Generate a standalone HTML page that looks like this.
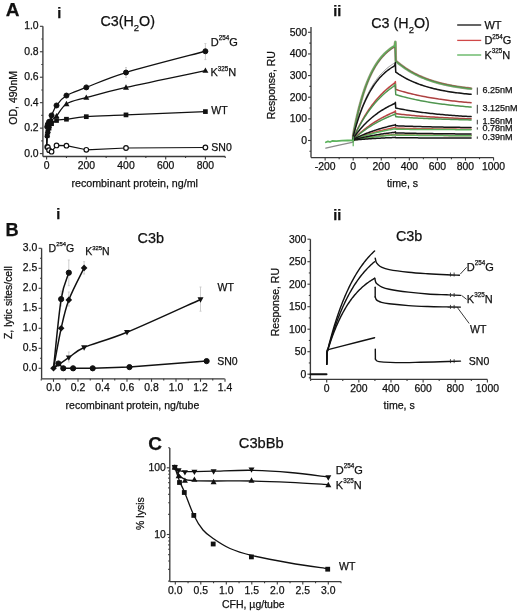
<!DOCTYPE html>
<html><head><meta charset="utf-8"><style>
html,body{margin:0;padding:0;background:#fff;}
svg{display:block;font-family:"Liberation Sans", sans-serif;}
text{stroke:#111;stroke-width:0.25px;}
.wrap{will-change:transform;width:520px;height:613px;}
</style></head><body>
<div class="wrap"><svg width="520" height="613" viewBox="0 0 520 613">
<rect width="520" height="613" fill="#fff"/>
<text x="5.80" y="16.20" font-size="19" text-anchor="start" font-weight="bold" fill="#111" >A</text>
<text x="5.60" y="236.20" font-size="18.2" text-anchor="start" font-weight="bold" fill="#111" >B</text>
<text x="148.30" y="449.70" font-size="19" text-anchor="start" font-weight="bold" fill="#111" >C</text>
<text x="57.30" y="18.30" font-size="14.5" text-anchor="start" font-weight="bold" fill="#111" >i</text>
<text x="333.20" y="15.90" font-size="14.5" text-anchor="start" font-weight="bold" fill="#111" >ii</text>
<text x="56.30" y="218.70" font-size="14.5" text-anchor="start" font-weight="bold" fill="#111" >i</text>
<text x="333.30" y="219.60" font-size="14.5" text-anchor="start" font-weight="bold" fill="#111" >ii</text>
<line x1="42.90" y1="26.30" x2="42.90" y2="156.50" stroke="#3a3a3a" stroke-width="1.35" />
<line x1="39.90" y1="153.60" x2="42.90" y2="153.60" stroke="#3a3a3a" stroke-width="1.1" />
<line x1="39.90" y1="128.14" x2="42.90" y2="128.14" stroke="#3a3a3a" stroke-width="1.1" />
<line x1="39.90" y1="102.68" x2="42.90" y2="102.68" stroke="#3a3a3a" stroke-width="1.1" />
<line x1="39.90" y1="77.22" x2="42.90" y2="77.22" stroke="#3a3a3a" stroke-width="1.1" />
<line x1="39.90" y1="51.76" x2="42.90" y2="51.76" stroke="#3a3a3a" stroke-width="1.1" />
<line x1="39.90" y1="26.30" x2="42.90" y2="26.30" stroke="#3a3a3a" stroke-width="1.1" />
<line x1="41.30" y1="140.87" x2="42.90" y2="140.87" stroke="#3a3a3a" stroke-width="1.1" />
<line x1="41.30" y1="115.41" x2="42.90" y2="115.41" stroke="#3a3a3a" stroke-width="1.1" />
<line x1="41.30" y1="89.95" x2="42.90" y2="89.95" stroke="#3a3a3a" stroke-width="1.1" />
<line x1="41.30" y1="64.49" x2="42.90" y2="64.49" stroke="#3a3a3a" stroke-width="1.1" />
<line x1="41.30" y1="39.03" x2="42.90" y2="39.03" stroke="#3a3a3a" stroke-width="1.1" />
<text x="38.60" y="156.60" font-size="10.4" text-anchor="end" font-weight="normal" fill="#111" >0.0</text>
<text x="38.60" y="131.14" font-size="10.4" text-anchor="end" font-weight="normal" fill="#111" >0.2</text>
<text x="38.60" y="105.68" font-size="10.4" text-anchor="end" font-weight="normal" fill="#111" >0.4</text>
<text x="38.60" y="80.22" font-size="10.4" text-anchor="end" font-weight="normal" fill="#111" >0.6</text>
<text x="38.60" y="54.76" font-size="10.4" text-anchor="end" font-weight="normal" fill="#111" >0.8</text>
<text x="38.60" y="29.30" font-size="10.4" text-anchor="end" font-weight="normal" fill="#111" >1.0</text>
<line x1="42.90" y1="156.50" x2="225.20" y2="156.50" stroke="#3a3a3a" stroke-width="1.35" />
<line x1="46.60" y1="156.50" x2="46.60" y2="159.50" stroke="#3a3a3a" stroke-width="1.1" />
<line x1="86.30" y1="156.50" x2="86.30" y2="159.50" stroke="#3a3a3a" stroke-width="1.1" />
<line x1="126.00" y1="156.50" x2="126.00" y2="159.50" stroke="#3a3a3a" stroke-width="1.1" />
<line x1="165.70" y1="156.50" x2="165.70" y2="159.50" stroke="#3a3a3a" stroke-width="1.1" />
<line x1="205.40" y1="156.50" x2="205.40" y2="159.50" stroke="#3a3a3a" stroke-width="1.1" />
<line x1="66.45" y1="156.50" x2="66.45" y2="158.10" stroke="#3a3a3a" stroke-width="1.1" />
<line x1="106.15" y1="156.50" x2="106.15" y2="158.10" stroke="#3a3a3a" stroke-width="1.1" />
<line x1="145.85" y1="156.50" x2="145.85" y2="158.10" stroke="#3a3a3a" stroke-width="1.1" />
<line x1="185.55" y1="156.50" x2="185.55" y2="158.10" stroke="#3a3a3a" stroke-width="1.1" />
<line x1="225.25" y1="156.50" x2="225.25" y2="158.10" stroke="#3a3a3a" stroke-width="1.1" />
<text x="46.60" y="168.80" font-size="10.4" text-anchor="middle" font-weight="normal" fill="#111" >0</text>
<text x="86.30" y="168.80" font-size="10.4" text-anchor="middle" font-weight="normal" fill="#111" >200</text>
<text x="126.00" y="168.80" font-size="10.4" text-anchor="middle" font-weight="normal" fill="#111" >400</text>
<text x="165.70" y="168.80" font-size="10.4" text-anchor="middle" font-weight="normal" fill="#111" >600</text>
<text x="205.40" y="168.80" font-size="10.4" text-anchor="middle" font-weight="normal" fill="#111" >800</text>
<text x="134.70" y="187.00" font-size="10.7" text-anchor="middle" font-weight="normal" fill="#111" >recombinant protein, ng/ml</text>
<text x="0" y="0" font-size="10.5" text-anchor="middle" fill="#111" transform="translate(17.20,97.80) rotate(-90)">OD, 490nM</text>
<text x="100.4" y="26.2" font-size="14.3" fill="#111">C3(H<tspan font-size="9.5" dy="4.5">2</tspan><tspan dy="-4.5">O)</tspan></text>
<path d="M46.60,145.96 C46.70,142.78 47.01,130.47 47.22,126.87 C47.43,123.26 47.53,125.17 47.84,124.32 C48.15,123.47 48.46,123.26 49.08,121.77 C49.70,120.29 50.32,118.13 51.56,115.41 C52.80,112.69 54.04,108.79 56.53,105.48 C59.01,102.17 61.49,98.56 66.45,95.55 C71.41,92.54 76.38,91.24 86.30,87.40 C96.23,83.56 106.15,78.54 126.00,72.51 C145.85,66.48 192.17,54.79 205.40,51.25" fill="none" stroke="#111" stroke-width="1.3" stroke-linejoin="round" stroke-linecap="round" />
<path d="M46.60,145.96 C46.70,144.05 47.01,137.05 47.22,134.50 C47.43,131.96 47.53,132.17 47.84,130.69 C48.15,129.20 48.46,127.29 49.08,125.59 C49.70,123.90 50.32,122.09 51.56,120.50 C52.80,118.91 54.04,118.80 56.53,116.05 C59.01,113.29 61.49,107.03 66.45,103.95 C71.41,100.88 76.38,100.35 86.30,97.59 C96.23,94.83 106.15,91.90 126.00,87.40 C145.85,82.91 192.17,73.40 205.40,70.60" fill="none" stroke="#111" stroke-width="1.3" stroke-linejoin="round" stroke-linecap="round" />
<path d="M46.60,145.96 C46.70,144.26 47.01,138.11 47.22,135.78 C47.43,133.44 47.53,133.23 47.84,131.96 C48.15,130.69 48.46,129.52 49.08,128.14 C49.70,126.76 50.32,124.96 51.56,123.68 C52.80,122.41 54.04,121.24 56.53,120.50 C59.01,119.76 61.49,119.87 66.45,119.23 C71.41,118.59 76.38,117.40 86.30,116.68 C96.23,115.96 106.15,115.75 126.00,114.90 C145.85,114.05 192.17,112.14 205.40,111.59" fill="none" stroke="#111" stroke-width="1.3" stroke-linejoin="round" stroke-linecap="round" />
<path d="M47.22,146.98 L47.84,147.23 L49.08,150.16 L51.56,151.69 L56.53,145.45 L66.45,145.71 L86.30,149.78 L126.00,148.00 L205.40,147.49" fill="none" stroke="#111" stroke-width="1.2" stroke-linejoin="round" stroke-linecap="round" />
<line x1="205.40" y1="43.50" x2="205.40" y2="59.60" stroke="#c9c9c9" stroke-width="0.9" />
<line x1="204.40" y1="43.50" x2="206.40" y2="43.50" stroke="#c9c9c9" stroke-width="0.9" />
<line x1="204.40" y1="59.60" x2="206.40" y2="59.60" stroke="#c9c9c9" stroke-width="0.9" />
<line x1="126.00" y1="67.51" x2="126.00" y2="77.51" stroke="#c9c9c9" stroke-width="0.9" />
<line x1="125.00" y1="67.51" x2="127.00" y2="67.51" stroke="#c9c9c9" stroke-width="0.9" />
<line x1="125.00" y1="77.51" x2="127.00" y2="77.51" stroke="#c9c9c9" stroke-width="0.9" />
<circle cx="47.22" cy="126.87" r="2.5" fill="#111" stroke="#111" stroke-width="1"/>
<circle cx="47.84" cy="124.32" r="2.5" fill="#111" stroke="#111" stroke-width="1"/>
<circle cx="49.08" cy="121.77" r="2.5" fill="#111" stroke="#111" stroke-width="1"/>
<circle cx="51.56" cy="115.41" r="2.5" fill="#111" stroke="#111" stroke-width="1"/>
<circle cx="56.53" cy="105.48" r="2.5" fill="#111" stroke="#111" stroke-width="1"/>
<circle cx="66.45" cy="95.55" r="2.5" fill="#111" stroke="#111" stroke-width="1"/>
<circle cx="86.30" cy="87.40" r="2.5" fill="#111" stroke="#111" stroke-width="1"/>
<circle cx="126.00" cy="72.51" r="2.5" fill="#111" stroke="#111" stroke-width="1"/>
<circle cx="205.40" cy="51.25" r="2.5" fill="#111" stroke="#111" stroke-width="1"/>
<polygon points="47.22,131.35 50.22,136.75 44.22,136.75" fill="#111"/>
<polygon points="47.84,127.54 50.84,132.94 44.84,132.94" fill="#111"/>
<polygon points="49.08,122.44 52.08,127.84 46.08,127.84" fill="#111"/>
<polygon points="51.56,117.35 54.56,122.75 48.56,122.75" fill="#111"/>
<polygon points="56.53,112.90 59.53,118.30 53.53,118.30" fill="#111"/>
<polygon points="66.45,100.80 69.45,106.20 63.45,106.20" fill="#111"/>
<polygon points="86.30,94.44 89.30,99.84 83.30,99.84" fill="#111"/>
<polygon points="126.00,84.25 129.00,89.65 123.00,89.65" fill="#111"/>
<polygon points="205.40,67.45 208.40,72.85 202.40,72.85" fill="#111"/>
<rect x="44.87" y="133.43" width="4.70" height="4.70" fill="#111"/>
<rect x="45.49" y="129.61" width="4.70" height="4.70" fill="#111"/>
<rect x="46.73" y="125.79" width="4.70" height="4.70" fill="#111"/>
<rect x="49.21" y="121.33" width="4.70" height="4.70" fill="#111"/>
<rect x="54.18" y="118.15" width="4.70" height="4.70" fill="#111"/>
<rect x="64.10" y="116.88" width="4.70" height="4.70" fill="#111"/>
<rect x="83.95" y="114.33" width="4.70" height="4.70" fill="#111"/>
<rect x="123.65" y="112.55" width="4.70" height="4.70" fill="#111"/>
<rect x="203.05" y="109.24" width="4.70" height="4.70" fill="#111"/>
<circle cx="47.22" cy="146.98" r="2.3" fill="#fff" stroke="#111" stroke-width="1.2"/>
<circle cx="47.84" cy="147.23" r="2.3" fill="#fff" stroke="#111" stroke-width="1.2"/>
<circle cx="49.08" cy="150.16" r="2.3" fill="#fff" stroke="#111" stroke-width="1.2"/>
<circle cx="51.56" cy="151.69" r="2.3" fill="#fff" stroke="#111" stroke-width="1.2"/>
<circle cx="56.53" cy="145.45" r="2.3" fill="#fff" stroke="#111" stroke-width="1.2"/>
<circle cx="66.45" cy="145.71" r="2.3" fill="#fff" stroke="#111" stroke-width="1.2"/>
<circle cx="86.30" cy="149.78" r="2.3" fill="#fff" stroke="#111" stroke-width="1.2"/>
<circle cx="126.00" cy="148.00" r="2.3" fill="#fff" stroke="#111" stroke-width="1.2"/>
<circle cx="205.40" cy="147.49" r="2.3" fill="#fff" stroke="#111" stroke-width="1.2"/>
<text x="210.80" y="45.80" font-size="11" fill="#111">D<tspan font-size="6.3" dy="-5.7">254</tspan><tspan dy="5.7">G</tspan></text>
<text x="210.50" y="76.30" font-size="11" fill="#111">K<tspan font-size="6.3" dy="-5.7">325</tspan><tspan dy="5.7">N</tspan></text>
<text x="211.30" y="114.00" font-size="10.5" text-anchor="start" font-weight="normal" fill="#111" >WT</text>
<text x="211.30" y="150.60" font-size="10.5" text-anchor="start" font-weight="normal" fill="#111" >SN0</text>
<line x1="311.00" y1="27.00" x2="311.00" y2="157.60" stroke="#3a3a3a" stroke-width="1.35" />
<line x1="308.00" y1="140.50" x2="311.00" y2="140.50" stroke="#3a3a3a" stroke-width="1.1" />
<line x1="308.00" y1="118.86" x2="311.00" y2="118.86" stroke="#3a3a3a" stroke-width="1.1" />
<line x1="308.00" y1="97.22" x2="311.00" y2="97.22" stroke="#3a3a3a" stroke-width="1.1" />
<line x1="308.00" y1="75.58" x2="311.00" y2="75.58" stroke="#3a3a3a" stroke-width="1.1" />
<line x1="308.00" y1="53.94" x2="311.00" y2="53.94" stroke="#3a3a3a" stroke-width="1.1" />
<line x1="308.00" y1="32.30" x2="311.00" y2="32.30" stroke="#3a3a3a" stroke-width="1.1" />
<line x1="309.40" y1="151.32" x2="311.00" y2="151.32" stroke="#3a3a3a" stroke-width="1.1" />
<line x1="309.40" y1="129.68" x2="311.00" y2="129.68" stroke="#3a3a3a" stroke-width="1.1" />
<line x1="309.40" y1="108.04" x2="311.00" y2="108.04" stroke="#3a3a3a" stroke-width="1.1" />
<line x1="309.40" y1="86.40" x2="311.00" y2="86.40" stroke="#3a3a3a" stroke-width="1.1" />
<line x1="309.40" y1="64.76" x2="311.00" y2="64.76" stroke="#3a3a3a" stroke-width="1.1" />
<line x1="309.40" y1="43.12" x2="311.00" y2="43.12" stroke="#3a3a3a" stroke-width="1.1" />
<text x="307.00" y="143.80" font-size="10.4" text-anchor="end" font-weight="normal" fill="#111" >0</text>
<text x="307.00" y="122.16" font-size="10.4" text-anchor="end" font-weight="normal" fill="#111" >100</text>
<text x="307.00" y="100.52" font-size="10.4" text-anchor="end" font-weight="normal" fill="#111" >200</text>
<text x="307.00" y="78.88" font-size="10.4" text-anchor="end" font-weight="normal" fill="#111" >300</text>
<text x="307.00" y="57.24" font-size="10.4" text-anchor="end" font-weight="normal" fill="#111" >400</text>
<text x="307.00" y="35.60" font-size="10.4" text-anchor="end" font-weight="normal" fill="#111" >500</text>
<line x1="311.00" y1="157.60" x2="493.60" y2="157.60" stroke="#3a3a3a" stroke-width="1.35" />
<line x1="325.13" y1="157.60" x2="325.13" y2="160.60" stroke="#3a3a3a" stroke-width="1.1" />
<line x1="353.20" y1="157.60" x2="353.20" y2="160.60" stroke="#3a3a3a" stroke-width="1.1" />
<line x1="381.27" y1="157.60" x2="381.27" y2="160.60" stroke="#3a3a3a" stroke-width="1.1" />
<line x1="409.34" y1="157.60" x2="409.34" y2="160.60" stroke="#3a3a3a" stroke-width="1.1" />
<line x1="437.41" y1="157.60" x2="437.41" y2="160.60" stroke="#3a3a3a" stroke-width="1.1" />
<line x1="465.48" y1="157.60" x2="465.48" y2="160.60" stroke="#3a3a3a" stroke-width="1.1" />
<line x1="493.55" y1="157.60" x2="493.55" y2="160.60" stroke="#3a3a3a" stroke-width="1.1" />
<line x1="339.16" y1="157.60" x2="339.16" y2="159.20" stroke="#3a3a3a" stroke-width="1.1" />
<line x1="367.24" y1="157.60" x2="367.24" y2="159.20" stroke="#3a3a3a" stroke-width="1.1" />
<line x1="395.31" y1="157.60" x2="395.31" y2="159.20" stroke="#3a3a3a" stroke-width="1.1" />
<line x1="423.38" y1="157.60" x2="423.38" y2="159.20" stroke="#3a3a3a" stroke-width="1.1" />
<line x1="451.44" y1="157.60" x2="451.44" y2="159.20" stroke="#3a3a3a" stroke-width="1.1" />
<line x1="479.51" y1="157.60" x2="479.51" y2="159.20" stroke="#3a3a3a" stroke-width="1.1" />
<text x="325.13" y="170.10" font-size="10.4" text-anchor="middle" font-weight="normal" fill="#111" >-200</text>
<text x="353.20" y="170.10" font-size="10.4" text-anchor="middle" font-weight="normal" fill="#111" >0</text>
<text x="381.27" y="170.10" font-size="10.4" text-anchor="middle" font-weight="normal" fill="#111" >200</text>
<text x="409.34" y="170.10" font-size="10.4" text-anchor="middle" font-weight="normal" fill="#111" >400</text>
<text x="437.41" y="170.10" font-size="10.4" text-anchor="middle" font-weight="normal" fill="#111" >600</text>
<text x="465.48" y="170.10" font-size="10.4" text-anchor="middle" font-weight="normal" fill="#111" >800</text>
<text x="493.55" y="170.10" font-size="10.4" text-anchor="middle" font-weight="normal" fill="#111" >1000</text>
<text x="402.50" y="187.10" font-size="10.6" text-anchor="middle" font-weight="normal" fill="#111" >time, s</text>
<text x="0" y="0" font-size="10.5" text-anchor="middle" fill="#111" transform="translate(274.90,85.20) rotate(-90)">Response, RU</text>
<text x="371.3" y="28.1" font-size="14.3" fill="#111">C3 (H<tspan font-size="9.5" dy="4.5">2</tspan><tspan dy="-4.5">O)</tspan></text>
<line x1="457.20" y1="25.00" x2="481.20" y2="25.00" stroke="#111" stroke-width="1.3" />
<line x1="457.20" y1="40.40" x2="481.20" y2="40.40" stroke="#d04848" stroke-width="1.3" />
<line x1="457.20" y1="55.00" x2="481.20" y2="55.00" stroke="#58b058" stroke-width="1.3" />
<text x="484.40" y="28.80" font-size="11" text-anchor="start" font-weight="normal" fill="#111" >WT</text>
<text x="484.40" y="44.30" font-size="11" fill="#111">D<tspan font-size="6.3" dy="-5.7">254</tspan><tspan dy="5.7">G</tspan></text>
<text x="484.40" y="58.90" font-size="11" fill="#111">K<tspan font-size="6.3" dy="-5.7">325</tspan><tspan dy="5.7">N</tspan></text>
<path d="M353.20,140.50 L353.27,135.09 L354.32,129.27 L355.45,123.79 L356.57,118.63 L357.69,113.77 L358.81,109.20 L359.94,104.89 L361.06,100.83 L362.18,97.01 L363.31,93.41 L364.43,90.01 L365.55,86.82 L366.67,83.82 L367.80,80.98 L368.92,78.32 L370.04,75.80 L371.16,73.44 L372.29,71.21 L373.41,69.11 L374.53,67.14 L375.66,65.28 L376.78,63.52 L377.90,61.87 L379.02,60.32 L380.15,58.86 L381.27,57.48 L382.39,56.18 L383.52,54.96 L384.64,53.81 L385.76,52.72 L386.88,51.70 L388.01,50.74 L389.13,49.83 L390.25,48.98 L391.38,48.18 L392.50,47.42 L393.62,46.71 L394.74,46.04 L395.38,41.82 L395.73,60.86 L396.99,61.96 L398.67,63.35 L400.36,64.69 L402.04,65.96 L403.73,67.18 L405.41,68.34 L407.09,69.44 L408.78,70.50 L410.46,71.51 L412.15,72.47 L413.83,73.38 L415.52,74.26 L417.20,75.09 L418.88,75.89 L420.57,76.65 L422.25,77.38 L423.94,78.07 L425.62,78.73 L427.30,79.36 L428.99,79.97 L430.67,80.54 L432.36,81.09 L434.04,81.61 L435.73,82.11 L437.41,82.59 L439.09,83.04 L440.78,83.48 L442.46,83.89 L444.15,84.28 L445.83,84.66 L447.52,85.02 L449.20,85.37 L450.88,85.69 L452.57,86.01 L454.25,86.30 L455.94,86.59 L457.62,86.86 L459.30,87.12 L460.99,87.37 L462.67,87.60 L464.36,87.83 L466.04,88.04 L467.73,88.25 L469.41,88.44 L471.09,88.63" fill="none" stroke="#a0a890" stroke-width="2.8" stroke-linejoin="round" stroke-linecap="round" />
<path d="M353.20,140.50 L353.27,136.17 L354.32,131.83 L355.45,127.70 L356.57,123.78 L357.69,120.06 L358.81,116.53 L359.94,113.18 L361.06,110.00 L362.18,106.98 L363.31,104.11 L364.43,101.39 L365.55,98.81 L366.67,96.35 L367.80,94.02 L368.92,91.81 L370.04,89.71 L371.16,87.72 L372.29,85.83 L373.41,84.03 L374.53,82.33 L375.66,80.71 L376.78,79.17 L377.90,77.72 L379.02,76.33 L380.15,75.02 L381.27,73.77 L382.39,72.58 L383.52,71.46 L384.64,70.39 L385.76,69.38 L386.88,68.42 L388.01,67.50 L389.13,66.64 L390.25,65.81 L391.38,65.03 L392.50,64.29 L393.62,63.59 L394.74,62.92 L395.73,72.12 L396.99,72.99 L398.67,74.11 L400.36,75.17 L402.04,76.19 L403.73,77.16 L405.41,78.08 L407.09,78.97 L408.78,79.81 L410.46,80.61 L412.15,81.38 L413.83,82.11 L415.52,82.81 L417.20,83.48 L418.88,84.12 L420.57,84.72 L422.25,85.30 L423.94,85.86 L425.62,86.38 L427.30,86.89 L428.99,87.37 L430.67,87.83 L432.36,88.27 L434.04,88.68 L435.73,89.08 L437.41,89.46 L439.09,89.82 L440.78,90.17 L442.46,90.50 L444.15,90.82 L445.83,91.12 L447.52,91.41 L449.20,91.68 L450.88,91.94 L452.57,92.19 L454.25,92.43 L455.94,92.66 L457.62,92.87 L459.30,93.08 L460.99,93.28 L462.67,93.47 L464.36,93.65 L466.04,93.82 L467.73,93.98 L469.41,94.14 L471.09,94.29" fill="none" stroke="#999999" stroke-width="1.0" stroke-linejoin="round" stroke-linecap="round" />
<path d="M353.20,140.50 L353.27,135.09 L354.32,129.29 L355.45,123.82 L356.57,118.67 L357.69,113.83 L358.81,109.26 L359.94,104.96 L361.06,100.91 L362.18,97.10 L363.31,93.51 L364.43,90.12 L365.55,86.94 L366.67,83.94 L367.80,81.11 L368.92,78.45 L370.04,75.95 L371.16,73.59 L372.29,71.37 L373.41,69.27 L374.53,67.30 L375.66,65.45 L376.78,63.70 L377.90,62.05 L379.02,60.50 L380.15,59.04 L381.27,57.67 L382.39,56.37 L383.52,55.15 L384.64,54.00 L385.76,52.92 L386.88,51.90 L388.01,50.94 L389.13,50.04 L390.25,49.19 L391.38,48.39 L392.50,47.63 L393.62,46.92 L394.74,46.25 L395.38,42.69 L395.73,60.65 L396.99,61.74 L398.67,63.14 L400.36,64.47 L402.04,65.75 L403.73,66.96 L405.41,68.12 L407.09,69.23 L408.78,70.28 L410.46,71.29 L412.15,72.25 L413.83,73.17 L415.52,74.04 L417.20,74.88 L418.88,75.68 L420.57,76.44 L422.25,77.16 L423.94,77.86 L425.62,78.52 L427.30,79.15 L428.99,79.75 L430.67,80.32 L432.36,80.87 L434.04,81.40 L435.73,81.89 L437.41,82.37 L439.09,82.83 L440.78,83.26 L442.46,83.67 L444.15,84.07 L445.83,84.45 L447.52,84.81 L449.20,85.15 L450.88,85.48 L452.57,85.79 L454.25,86.09 L455.94,86.37 L457.62,86.64 L459.30,86.90 L460.99,87.15 L462.67,87.39 L464.36,87.61 L466.04,87.83 L467.73,88.03 L469.41,88.23 L471.09,88.41" fill="none" stroke="#cf4a4a" stroke-width="1.5" stroke-linejoin="round" stroke-linecap="round" />
<path d="M353.20,140.50 L353.27,138.34 L354.32,135.82 L355.45,133.38 L356.57,131.02 L357.69,128.74 L358.81,126.52 L359.94,124.38 L361.06,122.30 L362.18,120.29 L363.31,118.34 L364.43,116.46 L365.55,114.63 L366.67,112.86 L367.80,111.15 L368.92,109.49 L370.04,107.88 L371.16,106.32 L372.29,104.81 L373.41,103.35 L374.53,101.94 L375.66,100.57 L376.78,99.24 L377.90,97.96 L379.02,96.71 L380.15,95.51 L381.27,94.34 L382.39,93.21 L383.52,92.11 L384.64,91.05 L385.76,90.03 L386.88,89.03 L388.01,88.07 L389.13,87.14 L390.25,86.23 L391.38,85.36 L392.50,84.51 L393.62,83.69 L394.74,82.89 L395.38,81.64 L395.73,89.43 L396.99,89.83 L398.67,90.35 L400.36,90.86 L402.04,91.35 L403.73,91.82 L405.41,92.28 L407.09,92.73 L408.78,93.16 L410.46,93.59 L412.15,94.00 L413.83,94.39 L415.52,94.78 L417.20,95.15 L418.88,95.51 L420.57,95.87 L422.25,96.21 L423.94,96.54 L425.62,96.86 L427.30,97.17 L428.99,97.48 L430.67,97.77 L432.36,98.06 L434.04,98.33 L435.73,98.60 L437.41,98.86 L439.09,99.12 L440.78,99.36 L442.46,99.60 L444.15,99.83 L445.83,100.06 L447.52,100.28 L449.20,100.49 L450.88,100.69 L452.57,100.89 L454.25,101.09 L455.94,101.27 L457.62,101.45 L459.30,101.63 L460.99,101.80 L462.67,101.97 L464.36,102.13 L466.04,102.29 L467.73,102.44 L469.41,102.59 L471.09,102.73" fill="none" stroke="#cf4a4a" stroke-width="1.5" stroke-linejoin="round" stroke-linecap="round" />
<path d="M353.20,140.50 L353.27,139.42 L354.32,138.30 L355.45,137.21 L356.57,136.15 L357.69,135.11 L358.81,134.10 L359.94,133.11 L361.06,132.14 L362.18,131.20 L363.31,130.28 L364.43,129.38 L365.55,128.50 L366.67,127.65 L367.80,126.81 L368.92,125.99 L370.04,125.20 L371.16,124.42 L372.29,123.66 L373.41,122.92 L374.53,122.19 L375.66,121.49 L376.78,120.79 L377.90,120.12 L379.02,119.46 L380.15,118.82 L381.27,118.19 L382.39,117.58 L383.52,116.98 L384.64,116.40 L385.76,115.83 L386.88,115.27 L388.01,114.73 L389.13,114.20 L390.25,113.68 L391.38,113.18 L392.50,112.69 L393.62,112.20 L394.74,111.73 L395.38,110.85 L395.73,113.67 L396.99,113.82 L398.67,114.02 L400.36,114.22 L402.04,114.41 L403.73,114.59 L405.41,114.77 L407.09,114.94 L408.78,115.11 L410.46,115.28 L412.15,115.43 L413.83,115.59 L415.52,115.74 L417.20,115.88 L418.88,116.02 L420.57,116.16 L422.25,116.29 L423.94,116.42 L425.62,116.54 L427.30,116.66 L428.99,116.78 L430.67,116.90 L432.36,117.01 L434.04,117.11 L435.73,117.22 L437.41,117.32 L439.09,117.42 L440.78,117.51 L442.46,117.60 L444.15,117.69 L445.83,117.78 L447.52,117.86 L449.20,117.95 L450.88,118.03 L452.57,118.10 L454.25,118.18 L455.94,118.25 L457.62,118.32 L459.30,118.39 L460.99,118.46 L462.67,118.52 L464.36,118.58 L466.04,118.64 L467.73,118.70 L469.41,118.76 L471.09,118.82" fill="none" stroke="#cf4a4a" stroke-width="1.5" stroke-linejoin="round" stroke-linecap="round" />
<path d="M353.20,140.50 L353.27,139.85 L354.32,139.36 L355.45,138.88 L356.57,138.41 L357.69,137.95 L358.81,137.50 L359.94,137.06 L361.06,136.64 L362.18,136.22 L363.31,135.81 L364.43,135.42 L365.55,135.03 L366.67,134.65 L367.80,134.28 L368.92,133.92 L370.04,133.57 L371.16,133.22 L372.29,132.89 L373.41,132.56 L374.53,132.24 L375.66,131.93 L376.78,131.62 L377.90,131.32 L379.02,131.03 L380.15,130.75 L381.27,130.47 L382.39,130.20 L383.52,129.94 L384.64,129.68 L385.76,129.43 L386.88,129.18 L388.01,128.94 L389.13,128.71 L390.25,128.48 L391.38,128.26 L392.50,128.04 L393.62,127.83 L394.74,127.62 L395.38,127.08 L395.73,128.17 L396.99,128.20 L398.67,128.24 L400.36,128.28 L402.04,128.32 L403.73,128.36 L405.41,128.40 L407.09,128.43 L408.78,128.47 L410.46,128.50 L412.15,128.53 L413.83,128.57 L415.52,128.60 L417.20,128.63 L418.88,128.66 L420.57,128.68 L422.25,128.71 L423.94,128.74 L425.62,128.76 L427.30,128.79 L428.99,128.81 L430.67,128.84 L432.36,128.86 L434.04,128.88 L435.73,128.91 L437.41,128.93 L439.09,128.95 L440.78,128.97 L442.46,128.99 L444.15,129.00 L445.83,129.02 L447.52,129.04 L449.20,129.06 L450.88,129.07 L452.57,129.09 L454.25,129.11 L455.94,129.12 L457.62,129.13 L459.30,129.15 L460.99,129.16 L462.67,129.18 L464.36,129.19 L466.04,129.20 L467.73,129.21 L469.41,129.23 L471.09,129.24" fill="none" stroke="#cf4a4a" stroke-width="1.5" stroke-linejoin="round" stroke-linecap="round" />
<path d="M353.20,140.50 L353.27,140.07 L354.32,139.84 L355.45,139.62 L356.57,139.41 L357.69,139.20 L358.81,139.00 L359.94,138.80 L361.06,138.60 L362.18,138.41 L363.31,138.23 L364.43,138.04 L365.55,137.87 L366.67,137.69 L367.80,137.53 L368.92,137.36 L370.04,137.20 L371.16,137.04 L372.29,136.89 L373.41,136.74 L374.53,136.60 L375.66,136.45 L376.78,136.31 L377.90,136.18 L379.02,136.05 L380.15,135.92 L381.27,135.79 L382.39,135.67 L383.52,135.55 L384.64,135.43 L385.76,135.31 L386.88,135.20 L388.01,135.09 L389.13,134.98 L390.25,134.88 L391.38,134.78 L392.50,134.68 L393.62,134.58 L394.74,134.49 L395.38,134.22 L395.73,134.87 L396.99,134.89 L398.67,134.92 L400.36,134.94 L402.04,134.97 L403.73,134.99 L405.41,135.01 L407.09,135.03 L408.78,135.05 L410.46,135.07 L412.15,135.09 L413.83,135.11 L415.52,135.13 L417.20,135.15 L418.88,135.17 L420.57,135.19 L422.25,135.20 L423.94,135.22 L425.62,135.23 L427.30,135.25 L428.99,135.26 L430.67,135.28 L432.36,135.29 L434.04,135.30 L435.73,135.32 L437.41,135.33 L439.09,135.34 L440.78,135.35 L442.46,135.37 L444.15,135.38 L445.83,135.39 L447.52,135.40 L449.20,135.41 L450.88,135.42 L452.57,135.43 L454.25,135.44 L455.94,135.45 L457.62,135.46 L459.30,135.46 L460.99,135.47 L462.67,135.48 L464.36,135.49 L466.04,135.50 L467.73,135.50 L469.41,135.51 L471.09,135.52" fill="none" stroke="#cf4a4a" stroke-width="1.5" stroke-linejoin="round" stroke-linecap="round" />
<path d="M353.20,140.50 L353.27,135.09 L354.32,129.26 L355.45,123.77 L356.57,118.59 L357.69,113.72 L358.81,109.13 L359.94,104.81 L361.06,100.75 L362.18,96.91 L363.31,93.30 L364.43,89.91 L365.55,86.71 L366.67,83.69 L367.80,80.85 L368.92,78.18 L370.04,75.66 L371.16,73.29 L372.29,71.06 L373.41,68.95 L374.53,66.97 L375.66,65.11 L376.78,63.35 L377.90,61.70 L379.02,60.14 L380.15,58.67 L381.27,57.29 L382.39,55.99 L383.52,54.76 L384.64,53.61 L385.76,52.52 L386.88,51.50 L388.01,50.54 L389.13,49.63 L390.25,48.77 L391.38,47.97 L392.50,47.21 L393.62,46.49 L394.74,45.82 L395.38,41.82 L395.73,61.08 L396.99,62.17 L398.67,63.57 L400.36,64.91 L402.04,66.18 L403.73,67.39 L405.41,68.55 L407.09,69.66 L408.78,70.71 L410.46,71.72 L412.15,72.68 L413.83,73.60 L415.52,74.48 L417.20,75.31 L418.88,76.11 L420.57,76.87 L422.25,77.60 L423.94,78.29 L425.62,78.95 L427.30,79.58 L428.99,80.18 L430.67,80.76 L432.36,81.30 L434.04,81.83 L435.73,82.33 L437.41,82.80 L439.09,83.26 L440.78,83.69 L442.46,84.11 L444.15,84.50 L445.83,84.88 L447.52,85.24 L449.20,85.58 L450.88,85.91 L452.57,86.22 L454.25,86.52 L455.94,86.80 L457.62,87.08 L459.30,87.34 L460.99,87.58 L462.67,87.82 L464.36,88.04 L466.04,88.26 L467.73,88.46 L469.41,88.66 L471.09,88.85" fill="none" stroke="#5db35d" stroke-width="1.5" stroke-linejoin="round" stroke-linecap="round" />
<path d="M353.20,140.50 L353.27,138.34 L354.32,135.94 L355.45,133.61 L356.57,131.36 L357.69,129.18 L358.81,127.07 L359.94,125.03 L361.06,123.05 L362.18,121.13 L363.31,119.27 L364.43,117.47 L365.55,115.73 L366.67,114.04 L367.80,112.41 L368.92,110.83 L370.04,109.30 L371.16,107.81 L372.29,106.37 L373.41,104.98 L374.53,103.63 L375.66,102.33 L376.78,101.06 L377.90,99.84 L379.02,98.65 L380.15,97.50 L381.27,96.39 L382.39,95.31 L383.52,94.26 L384.64,93.25 L385.76,92.27 L386.88,91.33 L388.01,90.41 L389.13,89.52 L390.25,88.66 L391.38,87.82 L392.50,87.01 L393.62,86.23 L394.74,85.47 L395.38,84.24 L395.73,94.62 L396.99,95.00 L398.67,95.48 L400.36,95.96 L402.04,96.42 L403.73,96.86 L405.41,97.29 L407.09,97.71 L408.78,98.12 L410.46,98.51 L412.15,98.89 L413.83,99.27 L415.52,99.63 L417.20,99.98 L418.88,100.32 L420.57,100.65 L422.25,100.96 L423.94,101.28 L425.62,101.58 L427.30,101.87 L428.99,102.15 L430.67,102.43 L432.36,102.69 L434.04,102.95 L435.73,103.21 L437.41,103.45 L439.09,103.69 L440.78,103.92 L442.46,104.14 L444.15,104.36 L445.83,104.57 L447.52,104.77 L449.20,104.97 L450.88,105.16 L452.57,105.35 L454.25,105.53 L455.94,105.70 L457.62,105.87 L459.30,106.04 L460.99,106.20 L462.67,106.35 L464.36,106.50 L466.04,106.65 L467.73,106.79 L469.41,106.93 L471.09,107.07" fill="none" stroke="#5db35d" stroke-width="1.5" stroke-linejoin="round" stroke-linecap="round" />
<path d="M353.20,140.50 L353.27,139.42 L354.32,138.41 L355.45,137.42 L356.57,136.45 L357.69,135.51 L358.81,134.59 L359.94,133.70 L361.06,132.82 L362.18,131.96 L363.31,131.13 L364.43,130.31 L365.55,129.52 L366.67,128.74 L367.80,127.98 L368.92,127.24 L370.04,126.52 L371.16,125.81 L372.29,125.12 L373.41,124.45 L374.53,123.79 L375.66,123.15 L376.78,122.53 L377.90,121.92 L379.02,121.32 L380.15,120.74 L381.27,120.17 L382.39,119.61 L383.52,119.07 L384.64,118.54 L385.76,118.02 L386.88,117.52 L388.01,117.03 L389.13,116.55 L390.25,116.08 L391.38,115.62 L392.50,115.17 L393.62,114.74 L394.74,114.31 L395.38,113.45 L395.73,116.70 L396.99,116.79 L398.67,116.92 L400.36,117.04 L402.04,117.16 L403.73,117.27 L405.41,117.39 L407.09,117.49 L408.78,117.60 L410.46,117.70 L412.15,117.80 L413.83,117.90 L415.52,117.99 L417.20,118.08 L418.88,118.17 L420.57,118.25 L422.25,118.34 L423.94,118.42 L425.62,118.49 L427.30,118.57 L428.99,118.64 L430.67,118.71 L432.36,118.78 L434.04,118.85 L435.73,118.92 L437.41,118.98 L439.09,119.04 L440.78,119.10 L442.46,119.16 L444.15,119.21 L445.83,119.27 L447.52,119.32 L449.20,119.37 L450.88,119.42 L452.57,119.47 L454.25,119.52 L455.94,119.56 L457.62,119.61 L459.30,119.65 L460.99,119.69 L462.67,119.73 L464.36,119.77 L466.04,119.81 L467.73,119.84 L469.41,119.88 L471.09,119.91" fill="none" stroke="#5db35d" stroke-width="1.5" stroke-linejoin="round" stroke-linecap="round" />
<path d="M353.20,140.50 L353.27,139.85 L354.32,139.41 L355.45,138.98 L356.57,138.56 L357.69,138.15 L358.81,137.75 L359.94,137.36 L361.06,136.97 L362.18,136.60 L363.31,136.24 L364.43,135.88 L365.55,135.54 L366.67,135.20 L367.80,134.87 L368.92,134.54 L370.04,134.23 L371.16,133.92 L372.29,133.62 L373.41,133.33 L374.53,133.04 L375.66,132.76 L376.78,132.49 L377.90,132.22 L379.02,131.96 L380.15,131.71 L381.27,131.46 L382.39,131.22 L383.52,130.98 L384.64,130.75 L385.76,130.53 L386.88,130.31 L388.01,130.09 L389.13,129.88 L390.25,129.68 L391.38,129.48 L392.50,129.28 L393.62,129.09 L394.74,128.91 L395.38,128.38 L395.73,129.25 L396.99,129.26 L398.67,129.28 L400.36,129.29 L402.04,129.31 L403.73,129.32 L405.41,129.34 L407.09,129.35 L408.78,129.37 L410.46,129.38 L412.15,129.39 L413.83,129.41 L415.52,129.42 L417.20,129.43 L418.88,129.44 L420.57,129.45 L422.25,129.47 L423.94,129.48 L425.62,129.49 L427.30,129.50 L428.99,129.51 L430.67,129.52 L432.36,129.53 L434.04,129.53 L435.73,129.54 L437.41,129.55 L439.09,129.56 L440.78,129.57 L442.46,129.58 L444.15,129.58 L445.83,129.59 L447.52,129.60 L449.20,129.60 L450.88,129.61 L452.57,129.62 L454.25,129.62 L455.94,129.63 L457.62,129.64 L459.30,129.64 L460.99,129.65 L462.67,129.65 L464.36,129.66 L466.04,129.66 L467.73,129.67 L469.41,129.67 L471.09,129.68" fill="none" stroke="#5db35d" stroke-width="1.5" stroke-linejoin="round" stroke-linecap="round" />
<path d="M353.20,140.50 L353.27,140.07 L354.32,139.86 L355.45,139.66 L356.57,139.46 L357.69,139.27 L358.81,139.08 L359.94,138.89 L361.06,138.71 L362.18,138.54 L363.31,138.37 L364.43,138.20 L365.55,138.04 L366.67,137.88 L367.80,137.72 L368.92,137.57 L370.04,137.42 L371.16,137.28 L372.29,137.14 L373.41,137.00 L374.53,136.86 L375.66,136.73 L376.78,136.60 L377.90,136.48 L379.02,136.35 L380.15,136.24 L381.27,136.12 L382.39,136.00 L383.52,135.89 L384.64,135.78 L385.76,135.68 L386.88,135.58 L388.01,135.47 L389.13,135.38 L390.25,135.28 L391.38,135.19 L392.50,135.09 L393.62,135.00 L394.74,134.92 L395.38,134.66 L395.73,135.09 L396.99,135.11 L398.67,135.13 L400.36,135.16 L402.04,135.18 L403.73,135.21 L405.41,135.23 L407.09,135.25 L408.78,135.27 L410.46,135.29 L412.15,135.31 L413.83,135.33 L415.52,135.35 L417.20,135.37 L418.88,135.38 L420.57,135.40 L422.25,135.42 L423.94,135.43 L425.62,135.45 L427.30,135.46 L428.99,135.48 L430.67,135.49 L432.36,135.51 L434.04,135.52 L435.73,135.53 L437.41,135.55 L439.09,135.56 L440.78,135.57 L442.46,135.58 L444.15,135.59 L445.83,135.60 L447.52,135.61 L449.20,135.63 L450.88,135.63 L452.57,135.64 L454.25,135.65 L455.94,135.66 L457.62,135.67 L459.30,135.68 L460.99,135.69 L462.67,135.70 L464.36,135.70 L466.04,135.71 L467.73,135.72 L469.41,135.73 L471.09,135.73" fill="none" stroke="#5db35d" stroke-width="1.5" stroke-linejoin="round" stroke-linecap="round" />
<path d="M353.20,140.50 L353.27,136.17 L354.32,131.99 L355.45,128.02 L356.57,124.26 L357.69,120.68 L358.81,117.28 L359.94,114.06 L361.06,111.00 L362.18,108.10 L363.31,105.34 L364.43,102.72 L365.55,100.23 L366.67,97.88 L367.80,95.64 L368.92,93.51 L370.04,91.49 L371.16,89.57 L372.29,87.75 L373.41,86.03 L374.53,84.39 L375.66,82.83 L376.78,81.35 L377.90,79.95 L379.02,78.62 L380.15,77.36 L381.27,76.16 L382.39,75.02 L383.52,73.93 L384.64,72.91 L385.76,71.93 L386.88,71.01 L388.01,70.13 L389.13,69.30 L390.25,68.50 L391.38,67.75 L392.50,67.04 L393.62,66.36 L394.74,65.72 L395.38,62.60 L395.73,72.12 L396.99,72.99 L398.67,74.11 L400.36,75.17 L402.04,76.19 L403.73,77.16 L405.41,78.08 L407.09,78.97 L408.78,79.81 L410.46,80.61 L412.15,81.38 L413.83,82.11 L415.52,82.81 L417.20,83.48 L418.88,84.12 L420.57,84.72 L422.25,85.30 L423.94,85.86 L425.62,86.38 L427.30,86.89 L428.99,87.37 L430.67,87.83 L432.36,88.27 L434.04,88.68 L435.73,89.08 L437.41,89.46 L439.09,89.82 L440.78,90.17 L442.46,90.50 L444.15,90.82 L445.83,91.12 L447.52,91.41 L449.20,91.68 L450.88,91.94 L452.57,92.19 L454.25,92.43 L455.94,92.66 L457.62,92.87 L459.30,93.08 L460.99,93.28 L462.67,93.47 L464.36,93.65 L466.04,93.82 L467.73,93.98 L469.41,94.14 L471.09,94.29" fill="none" stroke="#151515" stroke-width="1.5" stroke-linejoin="round" stroke-linecap="round" />
<path d="M353.20,140.50 L353.27,138.34 L354.32,136.76 L355.45,135.23 L356.57,133.74 L357.69,132.31 L358.81,130.92 L359.94,129.57 L361.06,128.27 L362.18,127.01 L363.31,125.78 L364.43,124.60 L365.55,123.45 L366.67,122.34 L367.80,121.26 L368.92,120.22 L370.04,119.21 L371.16,118.23 L372.29,117.29 L373.41,116.37 L374.53,115.48 L375.66,114.62 L376.78,113.79 L377.90,112.98 L379.02,112.20 L380.15,111.44 L381.27,110.71 L382.39,110.00 L383.52,109.31 L384.64,108.65 L385.76,108.00 L386.88,107.38 L388.01,106.77 L389.13,106.19 L390.25,105.62 L391.38,105.07 L392.50,104.54 L393.62,104.02 L394.74,103.52 L395.38,102.41 L395.73,108.04 L396.99,108.30 L398.67,108.63 L400.36,108.96 L402.04,109.28 L403.73,109.58 L405.41,109.88 L407.09,110.17 L408.78,110.45 L410.46,110.72 L412.15,110.99 L413.83,111.24 L415.52,111.49 L417.20,111.73 L418.88,111.97 L420.57,112.19 L422.25,112.41 L423.94,112.63 L425.62,112.84 L427.30,113.04 L428.99,113.23 L430.67,113.42 L432.36,113.61 L434.04,113.79 L435.73,113.96 L437.41,114.13 L439.09,114.29 L440.78,114.45 L442.46,114.60 L444.15,114.75 L445.83,114.90 L447.52,115.04 L449.20,115.17 L450.88,115.31 L452.57,115.44 L454.25,115.56 L455.94,115.68 L457.62,115.80 L459.30,115.91 L460.99,116.02 L462.67,116.13 L464.36,116.23 L466.04,116.34 L467.73,116.43 L469.41,116.53 L471.09,116.62" fill="none" stroke="#151515" stroke-width="1.5" stroke-linejoin="round" stroke-linecap="round" />
<path d="M353.20,140.50 L353.27,139.42 L354.32,138.84 L355.45,138.27 L356.57,137.72 L357.69,137.18 L358.81,136.66 L359.94,136.14 L361.06,135.64 L362.18,135.15 L363.31,134.67 L364.43,134.20 L365.55,133.75 L366.67,133.30 L367.80,132.87 L368.92,132.45 L370.04,132.03 L371.16,131.63 L372.29,131.23 L373.41,130.85 L374.53,130.47 L375.66,130.10 L376.78,129.75 L377.90,129.40 L379.02,129.05 L380.15,128.72 L381.27,128.39 L382.39,128.08 L383.52,127.77 L384.64,127.46 L385.76,127.17 L386.88,126.88 L388.01,126.60 L389.13,126.32 L390.25,126.05 L391.38,125.79 L392.50,125.53 L393.62,125.28 L394.74,125.04 L395.38,124.49 L395.73,125.78 L396.99,125.84 L398.67,125.90 L400.36,125.97 L402.04,126.03 L403.73,126.09 L405.41,126.15 L407.09,126.21 L408.78,126.27 L410.46,126.32 L412.15,126.37 L413.83,126.43 L415.52,126.47 L417.20,126.52 L418.88,126.57 L420.57,126.62 L422.25,126.66 L423.94,126.70 L425.62,126.74 L427.30,126.78 L428.99,126.82 L430.67,126.86 L432.36,126.90 L434.04,126.93 L435.73,126.97 L437.41,127.00 L439.09,127.03 L440.78,127.07 L442.46,127.10 L444.15,127.13 L445.83,127.16 L447.52,127.18 L449.20,127.21 L450.88,127.24 L452.57,127.26 L454.25,127.29 L455.94,127.31 L457.62,127.34 L459.30,127.36 L460.99,127.38 L462.67,127.40 L464.36,127.42 L466.04,127.44 L467.73,127.46 L469.41,127.48 L471.09,127.50" fill="none" stroke="#151515" stroke-width="1.5" stroke-linejoin="round" stroke-linecap="round" />
<path d="M353.20,140.50 L353.27,139.85 L354.32,139.55 L355.45,139.25 L356.57,138.96 L357.69,138.68 L358.81,138.41 L359.94,138.14 L361.06,137.88 L362.18,137.62 L363.31,137.37 L364.43,137.13 L365.55,136.89 L366.67,136.66 L367.80,136.43 L368.92,136.21 L370.04,135.99 L371.16,135.78 L372.29,135.57 L373.41,135.37 L374.53,135.18 L375.66,134.99 L376.78,134.80 L377.90,134.62 L379.02,134.44 L380.15,134.26 L381.27,134.09 L382.39,133.93 L383.52,133.76 L384.64,133.61 L385.76,133.45 L386.88,133.30 L388.01,133.15 L389.13,133.01 L390.25,132.87 L391.38,132.73 L392.50,132.60 L393.62,132.47 L394.74,132.34 L395.38,131.84 L395.73,132.93 L396.99,132.96 L398.67,133.00 L400.36,133.04 L402.04,133.08 L403.73,133.12 L405.41,133.16 L407.09,133.19 L408.78,133.23 L410.46,133.26 L412.15,133.29 L413.83,133.33 L415.52,133.36 L417.20,133.39 L418.88,133.42 L420.57,133.45 L422.25,133.47 L423.94,133.50 L425.62,133.53 L427.30,133.55 L428.99,133.58 L430.67,133.60 L432.36,133.62 L434.04,133.64 L435.73,133.67 L437.41,133.69 L439.09,133.71 L440.78,133.73 L442.46,133.75 L444.15,133.77 L445.83,133.78 L447.52,133.80 L449.20,133.82 L450.88,133.83 L452.57,133.85 L454.25,133.87 L455.94,133.88 L457.62,133.90 L459.30,133.91 L460.99,133.92 L462.67,133.94 L464.36,133.95 L466.04,133.96 L467.73,133.98 L469.41,133.99 L471.09,134.00" fill="none" stroke="#151515" stroke-width="1.5" stroke-linejoin="round" stroke-linecap="round" />
<path d="M353.20,140.50 L353.27,140.07 L354.32,139.96 L355.45,139.86 L356.57,139.76 L357.69,139.67 L358.81,139.57 L359.94,139.48 L361.06,139.39 L362.18,139.30 L363.31,139.22 L364.43,139.13 L365.55,139.05 L366.67,138.97 L367.80,138.89 L368.92,138.82 L370.04,138.74 L371.16,138.67 L372.29,138.60 L373.41,138.53 L374.53,138.46 L375.66,138.40 L376.78,138.33 L377.90,138.27 L379.02,138.21 L380.15,138.15 L381.27,138.09 L382.39,138.04 L383.52,137.98 L384.64,137.93 L385.76,137.87 L386.88,137.82 L388.01,137.77 L389.13,137.72 L390.25,137.67 L391.38,137.63 L392.50,137.58 L393.62,137.54 L394.74,137.49 L395.38,137.25 L395.73,137.69 L396.99,137.70 L398.67,137.72 L400.36,137.73 L402.04,137.75 L403.73,137.76 L405.41,137.78 L407.09,137.79 L408.78,137.81 L410.46,137.82 L412.15,137.83 L413.83,137.85 L415.52,137.86 L417.20,137.87 L418.88,137.88 L420.57,137.89 L422.25,137.91 L423.94,137.92 L425.62,137.93 L427.30,137.94 L428.99,137.95 L430.67,137.96 L432.36,137.97 L434.04,137.97 L435.73,137.98 L437.41,137.99 L439.09,138.00 L440.78,138.01 L442.46,138.01 L444.15,138.02 L445.83,138.03 L447.52,138.04 L449.20,138.04 L450.88,138.05 L452.57,138.06 L454.25,138.06 L455.94,138.07 L457.62,138.07 L459.30,138.08 L460.99,138.09 L462.67,138.09 L464.36,138.10 L466.04,138.10 L467.73,138.11 L469.41,138.11 L471.09,138.12" fill="none" stroke="#151515" stroke-width="1.5" stroke-linejoin="round" stroke-linecap="round" />
<path d="M353.20,140.50 L353.27,135.09 L354.32,129.35 L355.45,123.94 L356.57,118.85 L357.69,114.05 L358.81,109.53 L359.94,105.28 L361.06,101.27 L362.18,97.50 L363.31,93.95 L364.43,90.60 L365.55,87.45 L366.67,84.48 L367.80,81.69 L368.92,79.05 L370.04,76.58 L371.16,74.24 L372.29,72.04 L373.41,69.97 L374.53,68.02 L375.66,66.19 L376.78,64.46 L377.90,62.83 L379.02,61.29 L380.15,59.85 L381.27,58.49 L382.39,57.21 L383.52,56.00 L384.64,54.86 L385.76,53.79 L386.88,52.79 L388.01,51.84 L389.13,50.94 L390.25,50.10 L391.38,49.31 L392.50,48.56 L393.62,47.86 L394.74,47.20 L395.73,60.65 L396.99,61.74 L398.67,63.14 L400.36,64.47 L402.04,65.75 L403.73,66.96 L405.41,68.12 L407.09,69.23 L408.78,70.28 L410.46,71.29 L412.15,72.25 L413.83,73.17 L415.52,74.04 L417.20,74.88 L418.88,75.68 L420.57,76.44 L422.25,77.16 L423.94,77.86 L425.62,78.52 L427.30,79.15 L428.99,79.75 L430.67,80.32 L432.36,80.87 L434.04,81.40 L435.73,81.89 L437.41,82.37 L439.09,82.83 L440.78,83.26 L442.46,83.67 L444.15,84.07 L445.83,84.45 L447.52,84.81 L449.20,85.15 L450.88,85.48 L452.57,85.79 L454.25,86.09 L455.94,86.37 L457.62,86.64 L459.30,86.90 L460.99,87.15 L462.67,87.39 L464.36,87.61 L466.04,87.83 L467.73,88.03 L469.41,88.23 L471.09,88.41" fill="none" stroke="#333" stroke-width="0.5" stroke-linejoin="round" stroke-linecap="round" opacity="0.6"/>
<path d="M353.20,140.50 L353.27,138.34 L354.32,135.96 L355.45,133.66 L356.57,131.44 L357.69,129.28 L358.81,127.19 L359.94,125.17 L361.06,123.21 L362.18,121.31 L363.31,119.47 L364.43,117.69 L365.55,115.97 L366.67,114.30 L367.80,112.68 L368.92,111.11 L370.04,109.60 L371.16,108.13 L372.29,106.71 L373.41,105.33 L374.53,103.99 L375.66,102.70 L376.78,101.45 L377.90,100.24 L379.02,99.06 L380.15,97.92 L381.27,96.82 L382.39,95.76 L383.52,94.72 L384.64,93.72 L385.76,92.75 L386.88,91.81 L388.01,90.91 L389.13,90.03 L390.25,89.17 L391.38,88.35 L392.50,87.55 L393.62,86.77 L394.74,86.02 L395.73,94.62 L396.99,95.00 L398.67,95.48 L400.36,95.96 L402.04,96.42 L403.73,96.86 L405.41,97.29 L407.09,97.71 L408.78,98.12 L410.46,98.51 L412.15,98.89 L413.83,99.27 L415.52,99.63 L417.20,99.98 L418.88,100.32 L420.57,100.65 L422.25,100.96 L423.94,101.28 L425.62,101.58 L427.30,101.87 L428.99,102.15 L430.67,102.43 L432.36,102.69 L434.04,102.95 L435.73,103.21 L437.41,103.45 L439.09,103.69 L440.78,103.92 L442.46,104.14 L444.15,104.36 L445.83,104.57 L447.52,104.77 L449.20,104.97 L450.88,105.16 L452.57,105.35 L454.25,105.53 L455.94,105.70 L457.62,105.87 L459.30,106.04 L460.99,106.20 L462.67,106.35 L464.36,106.50 L466.04,106.65 L467.73,106.79 L469.41,106.93 L471.09,107.07" fill="none" stroke="#333" stroke-width="0.5" stroke-linejoin="round" stroke-linecap="round" opacity="0.6"/>
<path d="M353.20,140.50 L353.27,138.34 L354.32,135.85 L355.45,133.43 L356.57,131.10 L357.69,128.84 L358.81,126.65 L359.94,124.52 L361.06,122.47 L362.18,120.48 L363.31,118.55 L364.43,116.68 L365.55,114.88 L366.67,113.12 L367.80,111.43 L368.92,109.79 L370.04,108.20 L371.16,106.65 L372.29,105.16 L373.41,103.72 L374.53,102.32 L375.66,100.96 L376.78,99.65 L377.90,98.38 L379.02,97.15 L380.15,95.95 L381.27,94.80 L382.39,93.68 L383.52,92.59 L384.64,91.55 L385.76,90.53 L386.88,89.54 L388.01,88.59 L389.13,87.67 L390.25,86.77 L391.38,85.91 L392.50,85.07 L393.62,84.26 L394.74,83.47 L395.73,89.43 L396.99,89.83 L398.67,90.35 L400.36,90.86 L402.04,91.35 L403.73,91.82 L405.41,92.28 L407.09,92.73 L408.78,93.16 L410.46,93.59 L412.15,94.00 L413.83,94.39 L415.52,94.78 L417.20,95.15 L418.88,95.51 L420.57,95.87 L422.25,96.21 L423.94,96.54 L425.62,96.86 L427.30,97.17 L428.99,97.48 L430.67,97.77 L432.36,98.06 L434.04,98.33 L435.73,98.60 L437.41,98.86 L439.09,99.12 L440.78,99.36 L442.46,99.60 L444.15,99.83 L445.83,100.06 L447.52,100.28 L449.20,100.49 L450.88,100.69 L452.57,100.89 L454.25,101.09 L455.94,101.27 L457.62,101.45 L459.30,101.63 L460.99,101.80 L462.67,101.97 L464.36,102.13 L466.04,102.29 L467.73,102.44 L469.41,102.59 L471.09,102.73" fill="none" stroke="#333" stroke-width="0.5" stroke-linejoin="round" stroke-linecap="round" opacity="0.6"/>
<path d="M353.20,140.50 L353.27,139.42 L354.32,138.31 L355.45,137.24 L356.57,136.18 L357.69,135.16 L358.81,134.15 L359.94,133.17 L361.06,132.22 L362.18,131.29 L363.31,130.37 L364.43,129.49 L365.55,128.62 L366.67,127.77 L367.80,126.94 L368.92,126.13 L370.04,125.34 L371.16,124.57 L372.29,123.82 L373.41,123.09 L374.53,122.37 L375.66,121.67 L376.78,120.99 L377.90,120.32 L379.02,119.67 L380.15,119.03 L381.27,118.41 L382.39,117.81 L383.52,117.22 L384.64,116.64 L385.76,116.08 L386.88,115.53 L388.01,114.99 L389.13,114.46 L390.25,113.95 L391.38,113.45 L392.50,112.96 L393.62,112.49 L394.74,112.02 L395.73,113.67 L396.99,113.82 L398.67,114.02 L400.36,114.22 L402.04,114.41 L403.73,114.59 L405.41,114.77 L407.09,114.94 L408.78,115.11 L410.46,115.28 L412.15,115.43 L413.83,115.59 L415.52,115.74 L417.20,115.88 L418.88,116.02 L420.57,116.16 L422.25,116.29 L423.94,116.42 L425.62,116.54 L427.30,116.66 L428.99,116.78 L430.67,116.90 L432.36,117.01 L434.04,117.11 L435.73,117.22 L437.41,117.32 L439.09,117.42 L440.78,117.51 L442.46,117.60 L444.15,117.69 L445.83,117.78 L447.52,117.86 L449.20,117.95 L450.88,118.03 L452.57,118.10 L454.25,118.18 L455.94,118.25 L457.62,118.32 L459.30,118.39 L460.99,118.46 L462.67,118.52 L464.36,118.58 L466.04,118.64 L467.73,118.70 L469.41,118.76 L471.09,118.82" fill="none" stroke="#333" stroke-width="0.5" stroke-linejoin="round" stroke-linecap="round" opacity="0.6"/>
<path d="M353.20,140.50 L353.27,139.42 L354.32,138.42 L355.45,137.44 L356.57,136.48 L357.69,135.55 L358.81,134.64 L359.94,133.76 L361.06,132.89 L362.18,132.04 L363.31,131.22 L364.43,130.41 L365.55,129.62 L366.67,128.85 L367.80,128.10 L368.92,127.37 L370.04,126.65 L371.16,125.96 L372.29,125.27 L373.41,124.61 L374.53,123.96 L375.66,123.32 L376.78,122.70 L377.90,122.10 L379.02,121.51 L380.15,120.93 L381.27,120.37 L382.39,119.82 L383.52,119.28 L384.64,118.76 L385.76,118.25 L386.88,117.75 L388.01,117.26 L389.13,116.79 L390.25,116.32 L391.38,115.87 L392.50,115.42 L393.62,114.99 L394.74,114.57 L395.73,116.70 L396.99,116.79 L398.67,116.92 L400.36,117.04 L402.04,117.16 L403.73,117.27 L405.41,117.39 L407.09,117.49 L408.78,117.60 L410.46,117.70 L412.15,117.80 L413.83,117.90 L415.52,117.99 L417.20,118.08 L418.88,118.17 L420.57,118.25 L422.25,118.34 L423.94,118.42 L425.62,118.49 L427.30,118.57 L428.99,118.64 L430.67,118.71 L432.36,118.78 L434.04,118.85 L435.73,118.92 L437.41,118.98 L439.09,119.04 L440.78,119.10 L442.46,119.16 L444.15,119.21 L445.83,119.27 L447.52,119.32 L449.20,119.37 L450.88,119.42 L452.57,119.47 L454.25,119.52 L455.94,119.56 L457.62,119.61 L459.30,119.65 L460.99,119.69 L462.67,119.73 L464.36,119.77 L466.04,119.81 L467.73,119.84 L469.41,119.88 L471.09,119.91" fill="none" stroke="#333" stroke-width="0.5" stroke-linejoin="round" stroke-linecap="round" opacity="0.6"/>
<path d="M325.83,148.07 L339.16,145.04 L353.20,142.23" fill="none" stroke="#8a8a8a" stroke-width="1.3" stroke-linejoin="round" stroke-linecap="round" />
<path d="M325.83,142.23 L327.94,141.37 L330.04,142.01 L332.15,140.93 L336.36,141.15 L341.97,140.72 L347.59,140.50 L353.20,140.28" fill="none" stroke="#5db35d" stroke-width="1.8" stroke-linejoin="round" stroke-linecap="round" />
<line x1="353.20" y1="136.60" x2="353.20" y2="146.34" stroke="#5db35d" stroke-width="1.2" />
<text x="482.60" y="93.10" font-size="9.0" text-anchor="start" font-weight="normal" fill="#111" >6.25nM</text>
<line x1="477.30" y1="87.50" x2="477.30" y2="94.80" stroke="#333" stroke-width="1.0" />
<text x="482.60" y="111.40" font-size="9.0" text-anchor="start" font-weight="normal" fill="#111" >3.125nM</text>
<line x1="477.30" y1="104.80" x2="477.30" y2="113.50" stroke="#333" stroke-width="1.0" />
<text x="482.60" y="123.90" font-size="9.0" text-anchor="start" font-weight="normal" fill="#111" >1.56nM</text>
<line x1="477.30" y1="119.80" x2="477.30" y2="124.40" stroke="#333" stroke-width="1.0" />
<text x="482.60" y="131.40" font-size="9.0" text-anchor="start" font-weight="normal" fill="#111" >0.78nM</text>
<line x1="477.30" y1="127.30" x2="477.30" y2="129.60" stroke="#333" stroke-width="1.0" />
<text x="482.60" y="139.90" font-size="9.0" text-anchor="start" font-weight="normal" fill="#111" >0.39nM</text>
<line x1="477.30" y1="136.50" x2="477.30" y2="138.80" stroke="#333" stroke-width="1.0" />
<line x1="41.60" y1="248.30" x2="41.60" y2="378.80" stroke="#3a3a3a" stroke-width="1.35" />
<line x1="38.60" y1="368.30" x2="41.60" y2="368.30" stroke="#3a3a3a" stroke-width="1.1" />
<line x1="38.60" y1="348.30" x2="41.60" y2="348.30" stroke="#3a3a3a" stroke-width="1.1" />
<line x1="38.60" y1="328.30" x2="41.60" y2="328.30" stroke="#3a3a3a" stroke-width="1.1" />
<line x1="38.60" y1="308.30" x2="41.60" y2="308.30" stroke="#3a3a3a" stroke-width="1.1" />
<line x1="38.60" y1="288.30" x2="41.60" y2="288.30" stroke="#3a3a3a" stroke-width="1.1" />
<line x1="38.60" y1="268.30" x2="41.60" y2="268.30" stroke="#3a3a3a" stroke-width="1.1" />
<line x1="38.60" y1="248.30" x2="41.60" y2="248.30" stroke="#3a3a3a" stroke-width="1.1" />
<line x1="40.00" y1="358.30" x2="41.60" y2="358.30" stroke="#3a3a3a" stroke-width="1.1" />
<line x1="40.00" y1="338.30" x2="41.60" y2="338.30" stroke="#3a3a3a" stroke-width="1.1" />
<line x1="40.00" y1="318.30" x2="41.60" y2="318.30" stroke="#3a3a3a" stroke-width="1.1" />
<line x1="40.00" y1="298.30" x2="41.60" y2="298.30" stroke="#3a3a3a" stroke-width="1.1" />
<line x1="40.00" y1="278.30" x2="41.60" y2="278.30" stroke="#3a3a3a" stroke-width="1.1" />
<line x1="40.00" y1="258.30" x2="41.60" y2="258.30" stroke="#3a3a3a" stroke-width="1.1" />
<text x="37.20" y="371.20" font-size="10.4" text-anchor="end" font-weight="normal" fill="#111" >0.0</text>
<text x="37.20" y="351.20" font-size="10.4" text-anchor="end" font-weight="normal" fill="#111" >0.5</text>
<text x="37.20" y="331.20" font-size="10.4" text-anchor="end" font-weight="normal" fill="#111" >1.0</text>
<text x="37.20" y="311.20" font-size="10.4" text-anchor="end" font-weight="normal" fill="#111" >1.5</text>
<text x="37.20" y="291.20" font-size="10.4" text-anchor="end" font-weight="normal" fill="#111" >2.0</text>
<text x="37.20" y="271.20" font-size="10.4" text-anchor="end" font-weight="normal" fill="#111" >2.5</text>
<text x="37.20" y="251.20" font-size="10.4" text-anchor="end" font-weight="normal" fill="#111" >3.0</text>
<line x1="41.60" y1="378.80" x2="224.70" y2="378.80" stroke="#3a3a3a" stroke-width="1.35" />
<line x1="53.50" y1="378.80" x2="53.50" y2="381.80" stroke="#3a3a3a" stroke-width="1.1" />
<line x1="78.00" y1="378.80" x2="78.00" y2="381.80" stroke="#3a3a3a" stroke-width="1.1" />
<line x1="102.50" y1="378.80" x2="102.50" y2="381.80" stroke="#3a3a3a" stroke-width="1.1" />
<line x1="127.00" y1="378.80" x2="127.00" y2="381.80" stroke="#3a3a3a" stroke-width="1.1" />
<line x1="151.50" y1="378.80" x2="151.50" y2="381.80" stroke="#3a3a3a" stroke-width="1.1" />
<line x1="176.00" y1="378.80" x2="176.00" y2="381.80" stroke="#3a3a3a" stroke-width="1.1" />
<line x1="200.50" y1="378.80" x2="200.50" y2="381.80" stroke="#3a3a3a" stroke-width="1.1" />
<line x1="225.00" y1="378.80" x2="225.00" y2="381.80" stroke="#3a3a3a" stroke-width="1.1" />
<line x1="41.25" y1="378.80" x2="41.25" y2="380.40" stroke="#3a3a3a" stroke-width="1.1" />
<line x1="65.75" y1="378.80" x2="65.75" y2="380.40" stroke="#3a3a3a" stroke-width="1.1" />
<line x1="90.25" y1="378.80" x2="90.25" y2="380.40" stroke="#3a3a3a" stroke-width="1.1" />
<line x1="114.75" y1="378.80" x2="114.75" y2="380.40" stroke="#3a3a3a" stroke-width="1.1" />
<line x1="139.25" y1="378.80" x2="139.25" y2="380.40" stroke="#3a3a3a" stroke-width="1.1" />
<line x1="163.75" y1="378.80" x2="163.75" y2="380.40" stroke="#3a3a3a" stroke-width="1.1" />
<line x1="188.25" y1="378.80" x2="188.25" y2="380.40" stroke="#3a3a3a" stroke-width="1.1" />
<line x1="212.75" y1="378.80" x2="212.75" y2="380.40" stroke="#3a3a3a" stroke-width="1.1" />
<text x="53.50" y="391.00" font-size="10.4" text-anchor="middle" font-weight="normal" fill="#111" >0.0</text>
<text x="78.00" y="391.00" font-size="10.4" text-anchor="middle" font-weight="normal" fill="#111" >0.2</text>
<text x="102.50" y="391.00" font-size="10.4" text-anchor="middle" font-weight="normal" fill="#111" >0.4</text>
<text x="127.00" y="391.00" font-size="10.4" text-anchor="middle" font-weight="normal" fill="#111" >0.6</text>
<text x="151.50" y="391.00" font-size="10.4" text-anchor="middle" font-weight="normal" fill="#111" >0.8</text>
<text x="176.00" y="391.00" font-size="10.4" text-anchor="middle" font-weight="normal" fill="#111" >1.0</text>
<text x="200.50" y="391.00" font-size="10.4" text-anchor="middle" font-weight="normal" fill="#111" >1.2</text>
<text x="225.00" y="391.00" font-size="10.4" text-anchor="middle" font-weight="normal" fill="#111" >1.4</text>
<text x="132.40" y="408.50" font-size="10.5" text-anchor="middle" font-weight="normal" fill="#111" >recombinant protein, ng/tube</text>
<text x="0" y="0" font-size="10.4" text-anchor="middle" fill="#111" transform="translate(11.80,302.60) rotate(-90)">Z, lytic sites/cell</text>
<text x="137.60" y="242.50" font-size="14.4" text-anchor="start" font-weight="normal" fill="#111" >C3b</text>
<text x="48.60" y="251.60" font-size="10.5" fill="#111">D<tspan font-size="5.9" dy="-5.5">254</tspan><tspan dy="5.5">G</tspan></text>
<text x="85.20" y="255.00" font-size="10.5" fill="#111">K<tspan font-size="5.9" dy="-5.5">325</tspan><tspan dy="5.5">N</tspan></text>
<text x="217.60" y="291.00" font-size="10.5" text-anchor="start" font-weight="normal" fill="#111" >WT</text>
<text x="217.20" y="364.50" font-size="10.5" text-anchor="start" font-weight="normal" fill="#111" >SN0</text>
<line x1="68.81" y1="260.00" x2="68.81" y2="285.70" stroke="#c9c9c9" stroke-width="0.9" />
<line x1="67.81" y1="260.00" x2="69.81" y2="260.00" stroke="#c9c9c9" stroke-width="0.9" />
<line x1="67.81" y1="285.70" x2="69.81" y2="285.70" stroke="#c9c9c9" stroke-width="0.9" />
<line x1="61.16" y1="291.00" x2="61.16" y2="306.00" stroke="#c9c9c9" stroke-width="0.9" />
<line x1="60.16" y1="291.00" x2="62.16" y2="291.00" stroke="#c9c9c9" stroke-width="0.9" />
<line x1="60.16" y1="306.00" x2="62.16" y2="306.00" stroke="#c9c9c9" stroke-width="0.9" />
<line x1="84.12" y1="261.70" x2="84.12" y2="274.00" stroke="#c9c9c9" stroke-width="0.9" />
<line x1="83.12" y1="261.70" x2="85.12" y2="261.70" stroke="#c9c9c9" stroke-width="0.9" />
<line x1="83.12" y1="274.00" x2="85.12" y2="274.00" stroke="#c9c9c9" stroke-width="0.9" />
<line x1="68.81" y1="292.00" x2="68.81" y2="306.00" stroke="#c9c9c9" stroke-width="0.9" />
<line x1="67.81" y1="292.00" x2="69.81" y2="292.00" stroke="#c9c9c9" stroke-width="0.9" />
<line x1="67.81" y1="306.00" x2="69.81" y2="306.00" stroke="#c9c9c9" stroke-width="0.9" />
<line x1="200.50" y1="287.00" x2="200.50" y2="311.20" stroke="#c9c9c9" stroke-width="0.9" />
<line x1="199.50" y1="287.00" x2="201.50" y2="287.00" stroke="#c9c9c9" stroke-width="0.9" />
<line x1="199.50" y1="311.20" x2="201.50" y2="311.20" stroke="#c9c9c9" stroke-width="0.9" />
<line x1="68.81" y1="352.00" x2="68.81" y2="362.00" stroke="#c9c9c9" stroke-width="0.9" />
<line x1="67.81" y1="352.00" x2="69.81" y2="352.00" stroke="#c9c9c9" stroke-width="0.9" />
<line x1="67.81" y1="362.00" x2="69.81" y2="362.00" stroke="#c9c9c9" stroke-width="0.9" />
<path d="M53.50,368.30 C54.78,356.77 58.60,315.03 61.16,299.10 C63.71,283.17 67.54,277.10 68.81,272.70" fill="none" stroke="#111" stroke-width="1.5" stroke-linejoin="round" stroke-linecap="round" />
<path d="M53.50,368.30 C54.78,361.63 58.60,339.70 61.16,328.30 C63.71,316.90 64.98,309.97 68.81,299.90 C72.64,289.83 81.57,273.23 84.12,267.90" fill="none" stroke="#111" stroke-width="1.5" stroke-linejoin="round" stroke-linecap="round" />
<path d="M53.50,368.30 C56.05,366.53 63.71,361.17 68.81,357.70 C73.92,354.23 74.43,351.73 84.12,347.50 C93.82,343.27 107.60,340.30 127.00,332.30 C146.40,324.30 188.25,304.97 200.50,299.50" fill="none" stroke="#111" stroke-width="1.5" stroke-linejoin="round" stroke-linecap="round" />
<path d="M53.50,368.30 L58.40,363.50 L63.30,368.30 L73.10,368.30 L92.70,368.30 L129.45,367.10 L206.62,361.10" fill="none" stroke="#111" stroke-width="1.5" stroke-linejoin="round" stroke-linecap="round" />
<circle cx="61.16" cy="299.10" r="2.6" fill="#111" stroke="#111" stroke-width="1"/>
<circle cx="68.81" cy="272.70" r="2.6" fill="#111" stroke="#111" stroke-width="1"/>
<polygon points="53.50,365.00 56.80,368.30 53.50,371.60 50.20,368.30" fill="#111"/>
<polygon points="61.16,325.00 64.46,328.30 61.16,331.60 57.86,328.30" fill="#111"/>
<polygon points="68.81,296.60 72.11,299.90 68.81,303.20 65.51,299.90" fill="#111"/>
<polygon points="84.12,264.60 87.42,267.90 84.12,271.20 80.83,267.90" fill="#111"/>
<polygon points="68.81,360.85 71.81,355.45 65.81,355.45" fill="#111"/>
<polygon points="84.12,350.65 87.12,345.25 81.12,345.25" fill="#111"/>
<polygon points="127.00,335.45 130.00,330.05 124.00,330.05" fill="#111"/>
<polygon points="200.50,302.65 203.50,297.25 197.50,297.25" fill="#111"/>
<circle cx="58.40" cy="363.50" r="2.6" fill="#111" stroke="#111" stroke-width="1"/>
<circle cx="63.30" cy="368.30" r="2.6" fill="#111" stroke="#111" stroke-width="1"/>
<circle cx="73.10" cy="368.30" r="2.6" fill="#111" stroke="#111" stroke-width="1"/>
<circle cx="92.70" cy="368.30" r="2.6" fill="#111" stroke="#111" stroke-width="1"/>
<circle cx="129.45" cy="367.10" r="2.6" fill="#111" stroke="#111" stroke-width="1"/>
<circle cx="206.62" cy="361.10" r="2.6" fill="#111" stroke="#111" stroke-width="1"/>
<line x1="310.40" y1="239.20" x2="310.40" y2="379.40" stroke="#3a3a3a" stroke-width="1.35" />
<line x1="307.40" y1="374.20" x2="310.40" y2="374.20" stroke="#3a3a3a" stroke-width="1.1" />
<line x1="307.40" y1="351.70" x2="310.40" y2="351.70" stroke="#3a3a3a" stroke-width="1.1" />
<line x1="307.40" y1="329.20" x2="310.40" y2="329.20" stroke="#3a3a3a" stroke-width="1.1" />
<line x1="307.40" y1="306.70" x2="310.40" y2="306.70" stroke="#3a3a3a" stroke-width="1.1" />
<line x1="307.40" y1="284.20" x2="310.40" y2="284.20" stroke="#3a3a3a" stroke-width="1.1" />
<line x1="307.40" y1="261.70" x2="310.40" y2="261.70" stroke="#3a3a3a" stroke-width="1.1" />
<line x1="307.40" y1="239.20" x2="310.40" y2="239.20" stroke="#3a3a3a" stroke-width="1.1" />
<line x1="308.80" y1="362.95" x2="310.40" y2="362.95" stroke="#3a3a3a" stroke-width="1.1" />
<line x1="308.80" y1="340.45" x2="310.40" y2="340.45" stroke="#3a3a3a" stroke-width="1.1" />
<line x1="308.80" y1="317.95" x2="310.40" y2="317.95" stroke="#3a3a3a" stroke-width="1.1" />
<line x1="308.80" y1="295.45" x2="310.40" y2="295.45" stroke="#3a3a3a" stroke-width="1.1" />
<line x1="308.80" y1="272.95" x2="310.40" y2="272.95" stroke="#3a3a3a" stroke-width="1.1" />
<line x1="308.80" y1="250.45" x2="310.40" y2="250.45" stroke="#3a3a3a" stroke-width="1.1" />
<line x1="308.80" y1="377.80" x2="310.40" y2="377.80" stroke="#3a3a3a" stroke-width="1.1" />
<text x="306.30" y="377.50" font-size="10.4" text-anchor="end" font-weight="normal" fill="#111" >0</text>
<text x="306.30" y="355.00" font-size="10.4" text-anchor="end" font-weight="normal" fill="#111" >50</text>
<text x="306.30" y="332.50" font-size="10.4" text-anchor="end" font-weight="normal" fill="#111" >100</text>
<text x="306.30" y="310.00" font-size="10.4" text-anchor="end" font-weight="normal" fill="#111" >150</text>
<text x="306.30" y="287.50" font-size="10.4" text-anchor="end" font-weight="normal" fill="#111" >200</text>
<text x="306.30" y="265.00" font-size="10.4" text-anchor="end" font-weight="normal" fill="#111" >250</text>
<text x="306.30" y="242.50" font-size="10.4" text-anchor="end" font-weight="normal" fill="#111" >300</text>
<line x1="310.40" y1="379.40" x2="487.40" y2="379.40" stroke="#3a3a3a" stroke-width="1.35" />
<line x1="326.70" y1="379.40" x2="326.70" y2="382.40" stroke="#3a3a3a" stroke-width="1.1" />
<line x1="358.84" y1="379.40" x2="358.84" y2="382.40" stroke="#3a3a3a" stroke-width="1.1" />
<line x1="390.98" y1="379.40" x2="390.98" y2="382.40" stroke="#3a3a3a" stroke-width="1.1" />
<line x1="423.12" y1="379.40" x2="423.12" y2="382.40" stroke="#3a3a3a" stroke-width="1.1" />
<line x1="455.26" y1="379.40" x2="455.26" y2="382.40" stroke="#3a3a3a" stroke-width="1.1" />
<line x1="487.40" y1="379.40" x2="487.40" y2="382.40" stroke="#3a3a3a" stroke-width="1.1" />
<line x1="310.63" y1="379.40" x2="310.63" y2="381.00" stroke="#3a3a3a" stroke-width="1.1" />
<line x1="342.77" y1="379.40" x2="342.77" y2="381.00" stroke="#3a3a3a" stroke-width="1.1" />
<line x1="374.91" y1="379.40" x2="374.91" y2="381.00" stroke="#3a3a3a" stroke-width="1.1" />
<line x1="407.05" y1="379.40" x2="407.05" y2="381.00" stroke="#3a3a3a" stroke-width="1.1" />
<line x1="439.19" y1="379.40" x2="439.19" y2="381.00" stroke="#3a3a3a" stroke-width="1.1" />
<line x1="471.33" y1="379.40" x2="471.33" y2="381.00" stroke="#3a3a3a" stroke-width="1.1" />
<text x="326.70" y="391.90" font-size="10.4" text-anchor="middle" font-weight="normal" fill="#111" >0</text>
<text x="358.84" y="391.90" font-size="10.4" text-anchor="middle" font-weight="normal" fill="#111" >200</text>
<text x="390.98" y="391.90" font-size="10.4" text-anchor="middle" font-weight="normal" fill="#111" >400</text>
<text x="423.12" y="391.90" font-size="10.4" text-anchor="middle" font-weight="normal" fill="#111" >600</text>
<text x="455.26" y="391.90" font-size="10.4" text-anchor="middle" font-weight="normal" fill="#111" >800</text>
<text x="487.40" y="391.90" font-size="10.4" text-anchor="middle" font-weight="normal" fill="#111" >1000</text>
<text x="399.20" y="408.50" font-size="10.6" text-anchor="middle" font-weight="normal" fill="#111" >time, s</text>
<text x="0" y="0" font-size="10.5" text-anchor="middle" fill="#111" transform="translate(278.60,302.10) rotate(-90)">Response, RU</text>
<text x="395.90" y="240.80" font-size="14.4" text-anchor="start" font-weight="normal" fill="#111" >C3b</text>
<path d="M310.50,374.20 L326.50,374.20" fill="none" stroke="#111" stroke-width="2.0" stroke-linejoin="round" stroke-linecap="round" />
<path d="M326.76,364.30 L327.02,352.60 L327.66,349.99 L328.63,346.18 L329.59,342.48 L330.56,338.88 L331.52,335.40 L332.49,332.01 L333.45,328.73 L334.41,325.55 L335.38,322.45 L336.34,319.45 L337.31,316.54 L338.27,313.72 L339.23,310.97 L340.20,308.31 L341.16,305.73 L342.13,303.22 L343.09,300.79 L344.06,298.43 L345.02,296.14 L345.98,293.92 L346.95,291.76 L347.91,289.67 L348.88,287.63 L349.84,285.66 L350.81,283.75 L351.77,281.89 L352.73,280.09 L353.70,278.34 L354.66,276.65 L355.63,275.00 L356.59,273.40 L357.55,271.85 L358.52,270.34 L359.48,268.88 L360.45,267.47 L361.41,266.09 L362.38,264.76 L363.34,263.46 L364.30,262.20 L365.27,260.98 L366.23,259.80 L367.20,258.65 L368.16,257.54 L369.12,256.45 L370.09,255.40 L371.05,254.39 L372.02,253.40 L372.98,252.44 L373.95,251.51 L374.59,250.90" fill="none" stroke="#111" stroke-width="1.4" stroke-linejoin="round" stroke-linecap="round" />
<path d="M326.76,364.30 L327.02,352.60 L327.66,350.27 L328.63,346.86 L329.59,343.55 L330.56,340.34 L331.52,337.22 L332.49,334.20 L333.45,331.27 L334.41,328.42 L335.38,325.65 L336.34,322.97 L337.31,320.37 L338.27,317.84 L339.23,315.39 L340.20,313.01 L341.16,310.71 L342.13,308.47 L343.09,306.29 L344.06,304.18 L345.02,302.14 L345.98,300.15 L346.95,298.22 L347.91,296.35 L348.88,294.53 L349.84,292.77 L350.81,291.06 L351.77,289.40 L352.73,287.79 L353.70,286.23 L354.66,284.71 L355.63,283.24 L356.59,281.81 L357.55,280.43 L358.52,279.08 L359.48,277.77 L360.45,276.51 L361.41,275.28 L362.38,274.09 L363.34,272.93 L364.30,271.80 L365.27,270.71 L366.23,269.66 L367.20,268.63 L368.16,267.63 L369.12,266.66 L370.09,265.73 L371.05,264.82 L372.02,263.93 L372.98,263.07 L373.95,262.24 L374.59,261.70" fill="none" stroke="#111" stroke-width="1.4" stroke-linejoin="round" stroke-linecap="round" />
<path d="M326.76,364.30 L327.02,352.60 L327.66,350.48 L328.63,347.39 L329.59,344.42 L330.56,341.55 L331.52,338.78 L332.49,336.11 L333.45,333.53 L334.41,331.04 L335.38,328.64 L336.34,326.33 L337.31,324.10 L338.27,321.95 L339.23,319.87 L340.20,317.87 L341.16,315.93 L342.13,314.07 L343.09,312.27 L344.06,310.54 L345.02,308.86 L345.98,307.25 L346.95,305.69 L347.91,304.19 L348.88,302.74 L349.84,301.34 L350.81,300.00 L351.77,298.70 L352.73,297.44 L353.70,296.23 L354.66,295.06 L355.63,293.94 L356.59,292.85 L357.55,291.80 L358.52,290.79 L359.48,289.82 L360.45,288.88 L361.41,287.97 L362.38,287.09 L363.34,286.25 L364.30,285.43 L365.27,284.65 L366.23,283.89 L367.20,283.16 L368.16,282.46 L369.12,281.77 L370.09,281.12 L371.05,280.49 L372.02,279.87 L372.98,279.29 L373.95,278.72 L374.59,278.35" fill="none" stroke="#111" stroke-width="1.4" stroke-linejoin="round" stroke-linecap="round" />
<path d="M326.73,364.30 L326.94,351.70 L327.18,349.90 L342.77,345.85 L358.84,341.80 L374.59,337.75" fill="none" stroke="#111" stroke-width="1.4" stroke-linejoin="round" stroke-linecap="round" />
<path d="M375.20,258.10 C375.37,258.78 375.78,261.18 376.20,262.20 C376.62,263.22 376.82,263.38 377.70,264.20 C378.58,265.02 379.58,266.20 381.50,267.10 C383.42,268.00 384.70,268.73 389.20,269.60 C393.70,270.47 402.08,271.60 408.50,272.30 C414.92,273.00 421.30,273.38 427.70,273.80 C434.10,274.22 441.62,274.57 446.90,274.80 C452.18,275.03 457.32,275.13 459.40,275.20" fill="none" stroke="#111" stroke-width="1.4" stroke-linejoin="round" stroke-linecap="round" />
<path d="M374.80,278.10 C374.97,278.82 375.32,281.35 375.80,282.40 C376.28,283.45 376.75,283.65 377.70,284.40 C378.65,285.15 379.58,286.10 381.50,286.90 C383.42,287.70 384.70,288.33 389.20,289.20 C393.70,290.07 402.08,291.30 408.50,292.10 C414.92,292.90 421.30,293.55 427.70,294.00 C434.10,294.45 441.45,294.57 446.90,294.80 C452.35,295.03 458.15,295.30 460.40,295.40" fill="none" stroke="#111" stroke-width="1.4" stroke-linejoin="round" stroke-linecap="round" />
<path d="M375.20,287.30 L375.20,296.90" fill="none" stroke="#111" stroke-width="1.4" stroke-linejoin="round" stroke-linecap="round" />
<path d="M375.20,296.90 C375.37,297.33 375.78,298.85 376.20,299.50 C376.62,300.15 376.82,300.32 377.70,300.80 C378.58,301.28 379.58,301.92 381.50,302.40 C383.42,302.88 384.70,303.17 389.20,303.70 C393.70,304.23 402.08,305.13 408.50,305.60 C414.92,306.07 421.30,306.28 427.70,306.50 C434.10,306.72 441.45,306.80 446.90,306.90 C452.35,307.00 458.15,307.07 460.40,307.10" fill="none" stroke="#111" stroke-width="1.4" stroke-linejoin="round" stroke-linecap="round" />
<path d="M375.30,349.10 L375.40,359.00" fill="none" stroke="#111" stroke-width="1.4" stroke-linejoin="round" stroke-linecap="round" />
<path d="M375.40,359.00 C375.58,359.27 375.90,360.17 376.50,360.60 C377.10,361.03 376.75,361.30 379.00,361.60 C381.25,361.90 385.67,362.23 390.00,362.40 C394.33,362.57 400.00,362.62 405.00,362.60 C410.00,362.58 414.17,362.43 420.00,362.30 C425.83,362.17 433.25,362.00 440.00,361.80 C446.75,361.60 457.08,361.22 460.50,361.10" fill="none" stroke="#111" stroke-width="1.4" stroke-linejoin="round" stroke-linecap="round" />
<line x1="450.44" y1="272.52" x2="450.44" y2="276.52" stroke="#222" stroke-width="0.8" />
<line x1="454.14" y1="272.52" x2="454.14" y2="276.52" stroke="#222" stroke-width="0.8" />
<line x1="450.44" y1="293.00" x2="450.44" y2="297.00" stroke="#222" stroke-width="0.8" />
<line x1="454.14" y1="293.00" x2="454.14" y2="297.00" stroke="#222" stroke-width="0.8" />
<line x1="450.44" y1="304.92" x2="450.44" y2="308.92" stroke="#222" stroke-width="0.8" />
<line x1="454.14" y1="304.92" x2="454.14" y2="308.92" stroke="#222" stroke-width="0.8" />
<line x1="450.44" y1="359.15" x2="450.44" y2="363.15" stroke="#222" stroke-width="0.8" />
<line x1="454.14" y1="359.15" x2="454.14" y2="363.15" stroke="#222" stroke-width="0.8" />
<line x1="460.20" y1="274.20" x2="466.60" y2="267.30" stroke="#222" stroke-width="0.9" />
<line x1="461.40" y1="295.30" x2="466.60" y2="299.30" stroke="#222" stroke-width="0.9" />
<line x1="457.00" y1="307.00" x2="469.20" y2="323.50" stroke="#222" stroke-width="0.9" />
<text x="466.80" y="270.60" font-size="11" fill="#111">D<tspan font-size="6.3" dy="-5.7">254</tspan><tspan dy="5.7">G</tspan></text>
<text x="466.80" y="302.80" font-size="11" fill="#111">K<tspan font-size="6.3" dy="-5.7">325</tspan><tspan dy="5.7">N</tspan></text>
<text x="470.00" y="332.70" font-size="10.5" text-anchor="start" font-weight="normal" fill="#111" >WT</text>
<text x="468.80" y="365.00" font-size="10.5" text-anchor="start" font-weight="normal" fill="#111" >SN0</text>
<line x1="169.80" y1="447.90" x2="169.80" y2="581.60" stroke="#3a3a3a" stroke-width="1.35" />
<line x1="166.80" y1="467.80" x2="169.80" y2="467.80" stroke="#3a3a3a" stroke-width="1.1" />
<line x1="166.80" y1="534.50" x2="169.80" y2="534.50" stroke="#3a3a3a" stroke-width="1.1" />
<line x1="168.20" y1="514.42" x2="169.80" y2="514.42" stroke="#3a3a3a" stroke-width="1.1" />
<line x1="168.20" y1="502.68" x2="169.80" y2="502.68" stroke="#3a3a3a" stroke-width="1.1" />
<line x1="168.20" y1="494.34" x2="169.80" y2="494.34" stroke="#3a3a3a" stroke-width="1.1" />
<line x1="168.20" y1="487.88" x2="169.80" y2="487.88" stroke="#3a3a3a" stroke-width="1.1" />
<line x1="168.20" y1="482.60" x2="169.80" y2="482.60" stroke="#3a3a3a" stroke-width="1.1" />
<line x1="168.20" y1="478.13" x2="169.80" y2="478.13" stroke="#3a3a3a" stroke-width="1.1" />
<line x1="168.20" y1="474.26" x2="169.80" y2="474.26" stroke="#3a3a3a" stroke-width="1.1" />
<line x1="168.20" y1="470.85" x2="169.80" y2="470.85" stroke="#3a3a3a" stroke-width="1.1" />
<line x1="168.20" y1="581.12" x2="169.80" y2="581.12" stroke="#3a3a3a" stroke-width="1.1" />
<line x1="168.20" y1="569.38" x2="169.80" y2="569.38" stroke="#3a3a3a" stroke-width="1.1" />
<line x1="168.20" y1="561.04" x2="169.80" y2="561.04" stroke="#3a3a3a" stroke-width="1.1" />
<line x1="168.20" y1="554.58" x2="169.80" y2="554.58" stroke="#3a3a3a" stroke-width="1.1" />
<line x1="168.20" y1="549.30" x2="169.80" y2="549.30" stroke="#3a3a3a" stroke-width="1.1" />
<line x1="168.20" y1="544.83" x2="169.80" y2="544.83" stroke="#3a3a3a" stroke-width="1.1" />
<line x1="168.20" y1="540.96" x2="169.80" y2="540.96" stroke="#3a3a3a" stroke-width="1.1" />
<line x1="168.20" y1="537.55" x2="169.80" y2="537.55" stroke="#3a3a3a" stroke-width="1.1" />
<line x1="168.20" y1="447.72" x2="169.80" y2="447.72" stroke="#3a3a3a" stroke-width="1.1" />
<text x="165.80" y="471.10" font-size="10.4" text-anchor="end" font-weight="normal" fill="#111" >100</text>
<text x="165.80" y="537.80" font-size="10.4" text-anchor="end" font-weight="normal" fill="#111" >10</text>
<line x1="169.80" y1="581.60" x2="341.00" y2="581.60" stroke="#3a3a3a" stroke-width="1.35" />
<line x1="175.30" y1="581.60" x2="175.30" y2="584.60" stroke="#3a3a3a" stroke-width="1.1" />
<line x1="200.80" y1="581.60" x2="200.80" y2="584.60" stroke="#3a3a3a" stroke-width="1.1" />
<line x1="226.30" y1="581.60" x2="226.30" y2="584.60" stroke="#3a3a3a" stroke-width="1.1" />
<line x1="251.80" y1="581.60" x2="251.80" y2="584.60" stroke="#3a3a3a" stroke-width="1.1" />
<line x1="277.30" y1="581.60" x2="277.30" y2="584.60" stroke="#3a3a3a" stroke-width="1.1" />
<line x1="302.80" y1="581.60" x2="302.80" y2="584.60" stroke="#3a3a3a" stroke-width="1.1" />
<line x1="328.30" y1="581.60" x2="328.30" y2="584.60" stroke="#3a3a3a" stroke-width="1.1" />
<line x1="188.05" y1="581.60" x2="188.05" y2="583.20" stroke="#3a3a3a" stroke-width="1.1" />
<line x1="213.55" y1="581.60" x2="213.55" y2="583.20" stroke="#3a3a3a" stroke-width="1.1" />
<line x1="239.05" y1="581.60" x2="239.05" y2="583.20" stroke="#3a3a3a" stroke-width="1.1" />
<line x1="264.55" y1="581.60" x2="264.55" y2="583.20" stroke="#3a3a3a" stroke-width="1.1" />
<line x1="290.05" y1="581.60" x2="290.05" y2="583.20" stroke="#3a3a3a" stroke-width="1.1" />
<line x1="315.55" y1="581.60" x2="315.55" y2="583.20" stroke="#3a3a3a" stroke-width="1.1" />
<line x1="341.05" y1="581.60" x2="341.05" y2="583.20" stroke="#3a3a3a" stroke-width="1.1" />
<text x="175.30" y="594.00" font-size="10.4" text-anchor="middle" font-weight="normal" fill="#111" >0.0</text>
<text x="200.80" y="594.00" font-size="10.4" text-anchor="middle" font-weight="normal" fill="#111" >0.5</text>
<text x="226.30" y="594.00" font-size="10.4" text-anchor="middle" font-weight="normal" fill="#111" >1.0</text>
<text x="251.80" y="594.00" font-size="10.4" text-anchor="middle" font-weight="normal" fill="#111" >1.5</text>
<text x="277.30" y="594.00" font-size="10.4" text-anchor="middle" font-weight="normal" fill="#111" >2.0</text>
<text x="302.80" y="594.00" font-size="10.4" text-anchor="middle" font-weight="normal" fill="#111" >2.5</text>
<text x="328.30" y="594.00" font-size="10.4" text-anchor="middle" font-weight="normal" fill="#111" >3.0</text>
<text x="253.30" y="608.20" font-size="10.5" text-anchor="middle" font-weight="normal" fill="#111" >CFH, µg/tube</text>
<text x="0" y="0" font-size="10.5" text-anchor="middle" fill="#111" transform="translate(143.60,513.60) rotate(-90)">% lysis</text>
<text x="238.80" y="447.60" font-size="14.7" text-anchor="start" font-weight="normal" fill="#111" >C3bBb</text>
<path d="M174.80,467.30 C175.43,467.82 176.92,469.68 178.60,470.40 C180.28,471.12 182.27,471.40 184.90,471.60 C187.53,471.80 189.62,471.67 194.40,471.60 C199.18,471.53 204.08,471.42 213.60,471.20 C223.12,470.98 238.77,470.08 251.50,470.30 C264.23,470.52 277.20,471.38 290.00,472.50 C302.80,473.62 321.92,476.25 328.30,477.00" fill="none" stroke="#111" stroke-width="1.3" stroke-linejoin="round" stroke-linecap="round" />
<path d="M174.80,467.30 C175.43,468.50 176.92,472.48 178.60,474.50 C180.28,476.52 182.27,478.38 184.90,479.40 C187.53,480.42 189.62,480.33 194.40,480.60 C199.18,480.87 204.08,480.93 213.60,481.00 C223.12,481.07 238.77,480.77 251.50,481.00 C264.23,481.23 277.20,481.80 290.00,482.40 C302.80,483.00 321.92,484.23 328.30,484.60" fill="none" stroke="#111" stroke-width="1.3" stroke-linejoin="round" stroke-linecap="round" />
<path d="M174.80,467.30 C175.58,469.58 177.87,476.83 179.50,481.00 C181.13,485.17 182.22,486.60 184.60,492.30 C186.98,498.00 190.73,508.92 193.80,515.20 C196.87,521.48 199.77,526.12 203.00,530.00 C206.23,533.88 208.70,535.42 213.20,538.50 C217.70,541.58 223.63,545.68 230.00,548.50 C236.37,551.32 241.40,552.98 251.40,555.40 C261.40,557.82 277.28,560.80 290.00,563.00 C302.72,565.20 321.42,567.67 327.70,568.60" fill="none" stroke="#111" stroke-width="1.3" stroke-linejoin="round" stroke-linecap="round" />
<polygon points="174.80,470.45 177.80,465.05 171.80,465.05" fill="#111"/>
<polygon points="178.60,473.75 181.60,468.35 175.60,468.35" fill="#111"/>
<polygon points="184.90,475.55 187.90,470.15 181.90,470.15" fill="#111"/>
<polygon points="194.40,475.05 197.40,469.65 191.40,469.65" fill="#111"/>
<polygon points="213.60,474.65 216.60,469.25 210.60,469.25" fill="#111"/>
<polygon points="251.50,472.85 254.50,467.45 248.50,467.45" fill="#111"/>
<polygon points="328.30,480.65 331.30,475.25 325.30,475.25" fill="#111"/>
<polygon points="174.80,464.15 177.80,469.55 171.80,469.55" fill="#111"/>
<polygon points="178.60,472.85 181.60,478.25 175.60,478.25" fill="#111"/>
<polygon points="184.90,477.45 187.90,482.85 181.90,482.85" fill="#111"/>
<polygon points="194.40,476.45 197.40,481.85 191.40,481.85" fill="#111"/>
<polygon points="213.60,478.85 216.60,484.25 210.60,484.25" fill="#111"/>
<polygon points="251.50,477.25 254.50,482.65 248.50,482.65" fill="#111"/>
<polygon points="328.30,481.85 331.30,487.25 325.30,487.25" fill="#111"/>
<rect x="172.40" y="464.90" width="4.80" height="4.80" fill="#111"/>
<rect x="177.10" y="480.10" width="4.80" height="4.80" fill="#111"/>
<rect x="181.90" y="490.10" width="4.80" height="4.80" fill="#111"/>
<rect x="191.40" y="513.00" width="4.80" height="4.80" fill="#111"/>
<rect x="210.80" y="541.60" width="4.80" height="4.80" fill="#111"/>
<rect x="249.00" y="554.50" width="4.80" height="4.80" fill="#111"/>
<rect x="325.30" y="566.80" width="4.80" height="4.80" fill="#111"/>
<text x="335.80" y="473.70" font-size="11" fill="#111">D<tspan font-size="6.3" dy="-5.7">254</tspan><tspan dy="5.7">G</tspan></text>
<text x="335.80" y="489.00" font-size="11" fill="#111">K<tspan font-size="6.3" dy="-5.7">325</tspan><tspan dy="5.7">N</tspan></text>
<text x="339.00" y="569.80" font-size="10.5" text-anchor="start" font-weight="normal" fill="#111" >WT</text>
</svg></div></body></html>
